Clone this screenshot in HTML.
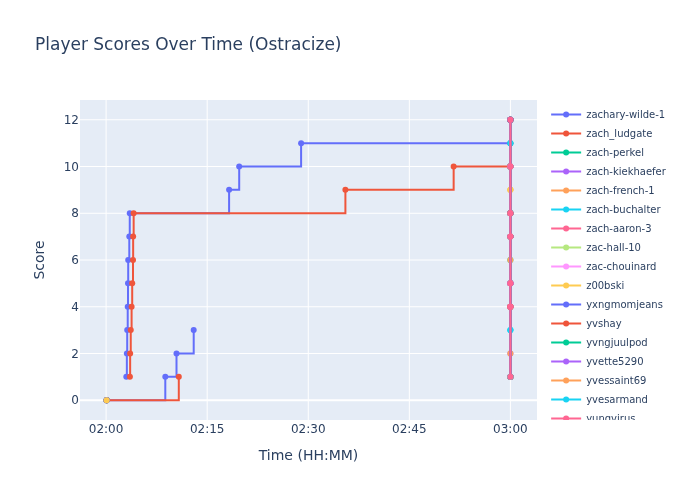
<!DOCTYPE html>
<html lang="en">
<head>
<meta charset="utf-8">
<title>Player Scores Over Time (Ostracize)</title>
<style>
html,body{margin:0;padding:0;background:#fff;overflow:hidden}
body{width:700px;height:500px;font-family:"DejaVu Sans","Liberation Sans",sans-serif}
svg{display:block}
</style>
</head>
<body>
<svg class="main-svg" width="700" height="500" viewBox="0 0 700 500"><rect x="0" y="0" width="700" height="500" style="fill: rgb(255, 255, 255); fill-opacity: 1;"/><defs id="defs-2659cf"><g class="clips"><clipPath id="clip2659cfxyplot" class="plotclip"><rect width="457" height="320"/></clipPath><clipPath class="axesclip" id="clip2659cfx"><rect x="80" y="0" width="457" height="500"/></clipPath><clipPath class="axesclip" id="clip2659cfy"><rect x="0" y="100" width="700" height="320"/></clipPath><clipPath class="axesclip" id="clip2659cfxy"><rect x="80" y="100" width="457" height="320"/></clipPath></g><g class="gradients"/><g class="patterns"/></defs><g class="bglayer"><rect class="bg" x="80" y="100" width="457" height="320" style="fill: rgb(229, 236, 246); fill-opacity: 1; stroke-width: 0;"/></g><g class="layer-below"><g class="imagelayer"/><g class="shapelayer"/></g><g class="cartesianlayer"><g class="subplot xy"><g class="layer-subplot"><g class="shapelayer"/><g class="imagelayer"/></g><g class="minor-gridlayer"><g class="x"/><g class="y"/></g><g class="gridlayer"><g class="x"><path class="xgrid crisp" transform="translate(106.1,0)" d="M0,100v320" style="stroke: rgb(255, 255, 255); stroke-opacity: 1; stroke-width: 1px;"/><path class="xgrid crisp" transform="translate(207.18,0)" d="M0,100v320" style="stroke: rgb(255, 255, 255); stroke-opacity: 1; stroke-width: 1px;"/><path class="xgrid crisp" transform="translate(308.25,0)" d="M0,100v320" style="stroke: rgb(255, 255, 255); stroke-opacity: 1; stroke-width: 1px;"/><path class="xgrid crisp" transform="translate(409.33,0)" d="M0,100v320" style="stroke: rgb(255, 255, 255); stroke-opacity: 1; stroke-width: 1px;"/><path class="xgrid crisp" transform="translate(510.4,0)" d="M0,100v320" style="stroke: rgb(255, 255, 255); stroke-opacity: 1; stroke-width: 1px;"/></g><g class="y"><path class="ygrid crisp" transform="translate(0,353.5)" d="M80,0h457" style="stroke: rgb(255, 255, 255); stroke-opacity: 1; stroke-width: 1px;"/><path class="ygrid crisp" transform="translate(0,306.75)" d="M80,0h457" style="stroke: rgb(255, 255, 255); stroke-opacity: 1; stroke-width: 1px;"/><path class="ygrid crisp" transform="translate(0,260)" d="M80,0h457" style="stroke: rgb(255, 255, 255); stroke-opacity: 1; stroke-width: 1px;"/><path class="ygrid crisp" transform="translate(0,213.25)" d="M80,0h457" style="stroke: rgb(255, 255, 255); stroke-opacity: 1; stroke-width: 1px;"/><path class="ygrid crisp" transform="translate(0,166.5)" d="M80,0h457" style="stroke: rgb(255, 255, 255); stroke-opacity: 1; stroke-width: 1px;"/><path class="ygrid crisp" transform="translate(0,119.75)" d="M80,0h457" style="stroke: rgb(255, 255, 255); stroke-opacity: 1; stroke-width: 1px;"/></g></g><g class="zerolinelayer"><path class="yzl zl crisp" transform="translate(0,400.25)" d="M80,0h457" style="stroke: rgb(255, 255, 255); stroke-opacity: 1; stroke-width: 2px;"/></g><g class="layer-between"><g class="shapelayer"/><g class="imagelayer"/></g><path class="xlines-below"/><path class="ylines-below"/><g class="overlines-below"/><g class="xaxislayer-below"/><g class="yaxislayer-below"/><g class="overaxes-below"/><g class="overplot"><g class="xy" transform="translate(80,100)" clip-path="url(#clip2659cfxyplot)"><g class="scatterlayer mlayer"><g class="trace scatter tracec89468" style="stroke-miterlimit: 2; opacity: 1;"><g class="fills"/><g class="errorbars"/><g class="lines"><path class="js-line" d="M46.3,276.87H46.85V253.5H47.2V230.12H47.72V206.75H48V183.37H48.2V160H49.3V136.62H49.75V113.25H149.1V89.87H159.2V66.5H221.1V43.13H430.4V43.13" style="vector-effect: none; fill: none; stroke: rgb(99, 110, 250); stroke-opacity: 1; stroke-width: 2px; opacity: 1;"/></g><g class="points"><path class="point" transform="translate(46.3,276.87)" d="M3,0A3,3 0 1,1 0,-3A3,3 0 0,1 3,0Z" style="opacity: 1; stroke-width: 0px; fill: rgb(99, 110, 250); fill-opacity: 1;"/><path class="point" transform="translate(46.85,253.5)" d="M3,0A3,3 0 1,1 0,-3A3,3 0 0,1 3,0Z" style="opacity: 1; stroke-width: 0px; fill: rgb(99, 110, 250); fill-opacity: 1;"/><path class="point" transform="translate(47.2,230.12)" d="M3,0A3,3 0 1,1 0,-3A3,3 0 0,1 3,0Z" style="opacity: 1; stroke-width: 0px; fill: rgb(99, 110, 250); fill-opacity: 1;"/><path class="point" transform="translate(47.72,206.75)" d="M3,0A3,3 0 1,1 0,-3A3,3 0 0,1 3,0Z" style="opacity: 1; stroke-width: 0px; fill: rgb(99, 110, 250); fill-opacity: 1;"/><path class="point" transform="translate(48,183.37)" d="M3,0A3,3 0 1,1 0,-3A3,3 0 0,1 3,0Z" style="opacity: 1; stroke-width: 0px; fill: rgb(99, 110, 250); fill-opacity: 1;"/><path class="point" transform="translate(48.2,160)" d="M3,0A3,3 0 1,1 0,-3A3,3 0 0,1 3,0Z" style="opacity: 1; stroke-width: 0px; fill: rgb(99, 110, 250); fill-opacity: 1;"/><path class="point" transform="translate(49.3,136.62)" d="M3,0A3,3 0 1,1 0,-3A3,3 0 0,1 3,0Z" style="opacity: 1; stroke-width: 0px; fill: rgb(99, 110, 250); fill-opacity: 1;"/><path class="point" transform="translate(49.75,113.25)" d="M3,0A3,3 0 1,1 0,-3A3,3 0 0,1 3,0Z" style="opacity: 1; stroke-width: 0px; fill: rgb(99, 110, 250); fill-opacity: 1;"/><path class="point" transform="translate(149.1,89.87)" d="M3,0A3,3 0 1,1 0,-3A3,3 0 0,1 3,0Z" style="opacity: 1; stroke-width: 0px; fill: rgb(99, 110, 250); fill-opacity: 1;"/><path class="point" transform="translate(159.2,66.5)" d="M3,0A3,3 0 1,1 0,-3A3,3 0 0,1 3,0Z" style="opacity: 1; stroke-width: 0px; fill: rgb(99, 110, 250); fill-opacity: 1;"/><path class="point" transform="translate(221.1,43.13)" d="M3,0A3,3 0 1,1 0,-3A3,3 0 0,1 3,0Z" style="opacity: 1; stroke-width: 0px; fill: rgb(99, 110, 250); fill-opacity: 1;"/><path class="point" transform="translate(430.4,43.13)" d="M3,0A3,3 0 1,1 0,-3A3,3 0 0,1 3,0Z" style="opacity: 1; stroke-width: 0px; fill: rgb(99, 110, 250); fill-opacity: 1;"/></g><g class="text"/></g><g class="trace scatter trace0ce179" style="stroke-miterlimit: 2; opacity: 1;"><g class="fills"/><g class="errorbars"/><g class="lines"><path class="js-line" d="M49.9,276.87H50.15V253.5H50.75V230.12H51.6V206.75H52.2V183.37H53V160H53.15V136.62H53.65V113.25H265.4V89.87H373.65V66.5H430.4V66.5" style="vector-effect: none; fill: none; stroke: rgb(239, 85, 59); stroke-opacity: 1; stroke-width: 2px; opacity: 1;"/></g><g class="points"><path class="point" transform="translate(49.9,276.87)" d="M3,0A3,3 0 1,1 0,-3A3,3 0 0,1 3,0Z" style="opacity: 1; stroke-width: 0px; fill: rgb(239, 85, 59); fill-opacity: 1;"/><path class="point" transform="translate(50.15,253.5)" d="M3,0A3,3 0 1,1 0,-3A3,3 0 0,1 3,0Z" style="opacity: 1; stroke-width: 0px; fill: rgb(239, 85, 59); fill-opacity: 1;"/><path class="point" transform="translate(50.75,230.12)" d="M3,0A3,3 0 1,1 0,-3A3,3 0 0,1 3,0Z" style="opacity: 1; stroke-width: 0px; fill: rgb(239, 85, 59); fill-opacity: 1;"/><path class="point" transform="translate(51.6,206.75)" d="M3,0A3,3 0 1,1 0,-3A3,3 0 0,1 3,0Z" style="opacity: 1; stroke-width: 0px; fill: rgb(239, 85, 59); fill-opacity: 1;"/><path class="point" transform="translate(52.2,183.37)" d="M3,0A3,3 0 1,1 0,-3A3,3 0 0,1 3,0Z" style="opacity: 1; stroke-width: 0px; fill: rgb(239, 85, 59); fill-opacity: 1;"/><path class="point" transform="translate(53,160)" d="M3,0A3,3 0 1,1 0,-3A3,3 0 0,1 3,0Z" style="opacity: 1; stroke-width: 0px; fill: rgb(239, 85, 59); fill-opacity: 1;"/><path class="point" transform="translate(53.15,136.62)" d="M3,0A3,3 0 1,1 0,-3A3,3 0 0,1 3,0Z" style="opacity: 1; stroke-width: 0px; fill: rgb(239, 85, 59); fill-opacity: 1;"/><path class="point" transform="translate(53.65,113.25)" d="M3,0A3,3 0 1,1 0,-3A3,3 0 0,1 3,0Z" style="opacity: 1; stroke-width: 0px; fill: rgb(239, 85, 59); fill-opacity: 1;"/><path class="point" transform="translate(265.4,89.87)" d="M3,0A3,3 0 1,1 0,-3A3,3 0 0,1 3,0Z" style="opacity: 1; stroke-width: 0px; fill: rgb(239, 85, 59); fill-opacity: 1;"/><path class="point" transform="translate(373.65,66.5)" d="M3,0A3,3 0 1,1 0,-3A3,3 0 0,1 3,0Z" style="opacity: 1; stroke-width: 0px; fill: rgb(239, 85, 59); fill-opacity: 1;"/><path class="point" transform="translate(430.4,66.5)" d="M3,0A3,3 0 1,1 0,-3A3,3 0 0,1 3,0Z" style="opacity: 1; stroke-width: 0px; fill: rgb(239, 85, 59); fill-opacity: 1;"/></g><g class="text"/></g><g class="trace scatter trace905008" style="stroke-miterlimit: 2; opacity: 1;"><g class="fills"/><g class="errorbars"/><g class="lines"><path class="js-line" d="M26.6,300.25" style="vector-effect: none; fill: none; stroke: rgb(0, 204, 150); stroke-opacity: 1; stroke-width: 2px; opacity: 1;"/><path class="js-line" d="M430.4,276.87H430.4V206.75H430.4V183.37H430.4V66.5H430.4V19.75" style="vector-effect: none; fill: none; stroke: rgb(0, 204, 150); stroke-opacity: 1; stroke-width: 2px; opacity: 1;"/></g><g class="points"><path class="point" transform="translate(26.6,300.25)" d="M3,0A3,3 0 1,1 0,-3A3,3 0 0,1 3,0Z" style="opacity: 1; stroke-width: 0px; fill: rgb(0, 204, 150); fill-opacity: 1;"/><path class="point" transform="translate(430.4,276.87)" d="M3,0A3,3 0 1,1 0,-3A3,3 0 0,1 3,0Z" style="opacity: 1; stroke-width: 0px; fill: rgb(0, 204, 150); fill-opacity: 1;"/><path class="point" transform="translate(430.4,206.75)" d="M3,0A3,3 0 1,1 0,-3A3,3 0 0,1 3,0Z" style="opacity: 1; stroke-width: 0px; fill: rgb(0, 204, 150); fill-opacity: 1;"/><path class="point" transform="translate(430.4,183.37)" d="M3,0A3,3 0 1,1 0,-3A3,3 0 0,1 3,0Z" style="opacity: 1; stroke-width: 0px; fill: rgb(0, 204, 150); fill-opacity: 1;"/><path class="point" transform="translate(430.4,66.5)" d="M3,0A3,3 0 1,1 0,-3A3,3 0 0,1 3,0Z" style="opacity: 1; stroke-width: 0px; fill: rgb(0, 204, 150); fill-opacity: 1;"/><path class="point" transform="translate(430.4,19.75)" d="M3,0A3,3 0 1,1 0,-3A3,3 0 0,1 3,0Z" style="opacity: 1; stroke-width: 0px; fill: rgb(0, 204, 150); fill-opacity: 1;"/></g><g class="text"/></g><g class="trace scatter trace4a29d1" style="stroke-miterlimit: 2; opacity: 1;"><g class="fills"/><g class="errorbars"/><g class="lines"><path class="js-line" d="M26.6,300.25" style="vector-effect: none; fill: none; stroke: rgb(171, 99, 250); stroke-opacity: 1; stroke-width: 2px; opacity: 1;"/><path class="js-line" d="M430.4,276.87H430.4V206.75H430.4V183.37H430.4V113.25H430.4V19.75" style="vector-effect: none; fill: none; stroke: rgb(171, 99, 250); stroke-opacity: 1; stroke-width: 2px; opacity: 1;"/></g><g class="points"><path class="point" transform="translate(26.6,300.25)" d="M3,0A3,3 0 1,1 0,-3A3,3 0 0,1 3,0Z" style="opacity: 1; stroke-width: 0px; fill: rgb(171, 99, 250); fill-opacity: 1;"/><path class="point" transform="translate(430.4,276.87)" d="M3,0A3,3 0 1,1 0,-3A3,3 0 0,1 3,0Z" style="opacity: 1; stroke-width: 0px; fill: rgb(171, 99, 250); fill-opacity: 1;"/><path class="point" transform="translate(430.4,206.75)" d="M3,0A3,3 0 1,1 0,-3A3,3 0 0,1 3,0Z" style="opacity: 1; stroke-width: 0px; fill: rgb(171, 99, 250); fill-opacity: 1;"/><path class="point" transform="translate(430.4,183.37)" d="M3,0A3,3 0 1,1 0,-3A3,3 0 0,1 3,0Z" style="opacity: 1; stroke-width: 0px; fill: rgb(171, 99, 250); fill-opacity: 1;"/><path class="point" transform="translate(430.4,113.25)" d="M3,0A3,3 0 1,1 0,-3A3,3 0 0,1 3,0Z" style="opacity: 1; stroke-width: 0px; fill: rgb(171, 99, 250); fill-opacity: 1;"/><path class="point" transform="translate(430.4,19.75)" d="M3,0A3,3 0 1,1 0,-3A3,3 0 0,1 3,0Z" style="opacity: 1; stroke-width: 0px; fill: rgb(171, 99, 250); fill-opacity: 1;"/></g><g class="text"/></g><g class="trace scatter trace80b6bf" style="stroke-miterlimit: 2; opacity: 1;"><g class="fills"/><g class="errorbars"/><g class="lines"><path class="js-line" d="M430.4,276.87H430.4V206.75H430.4V113.25H430.4V66.5H430.4V19.75" style="vector-effect: none; fill: none; stroke: rgb(255, 161, 90); stroke-opacity: 1; stroke-width: 2px; opacity: 1;"/></g><g class="points"><path class="point" transform="translate(430.4,276.87)" d="M3,0A3,3 0 1,1 0,-3A3,3 0 0,1 3,0Z" style="opacity: 1; stroke-width: 0px; fill: rgb(255, 161, 90); fill-opacity: 1;"/><path class="point" transform="translate(430.4,206.75)" d="M3,0A3,3 0 1,1 0,-3A3,3 0 0,1 3,0Z" style="opacity: 1; stroke-width: 0px; fill: rgb(255, 161, 90); fill-opacity: 1;"/><path class="point" transform="translate(430.4,113.25)" d="M3,0A3,3 0 1,1 0,-3A3,3 0 0,1 3,0Z" style="opacity: 1; stroke-width: 0px; fill: rgb(255, 161, 90); fill-opacity: 1;"/><path class="point" transform="translate(430.4,66.5)" d="M3,0A3,3 0 1,1 0,-3A3,3 0 0,1 3,0Z" style="opacity: 1; stroke-width: 0px; fill: rgb(255, 161, 90); fill-opacity: 1;"/><path class="point" transform="translate(430.4,19.75)" d="M3,0A3,3 0 1,1 0,-3A3,3 0 0,1 3,0Z" style="opacity: 1; stroke-width: 0px; fill: rgb(255, 161, 90); fill-opacity: 1;"/></g><g class="text"/></g><g class="trace scatter tracea40d07" style="stroke-miterlimit: 2; opacity: 1;"><g class="fills"/><g class="errorbars"/><g class="lines"><path class="js-line" d="M430.4,276.87H430.4V206.75H430.4V113.25H430.4V66.5H430.4V19.75" style="vector-effect: none; fill: none; stroke: rgb(25, 211, 243); stroke-opacity: 1; stroke-width: 2px; opacity: 1;"/></g><g class="points"><path class="point" transform="translate(430.4,276.87)" d="M3,0A3,3 0 1,1 0,-3A3,3 0 0,1 3,0Z" style="opacity: 1; stroke-width: 0px; fill: rgb(25, 211, 243); fill-opacity: 1;"/><path class="point" transform="translate(430.4,206.75)" d="M3,0A3,3 0 1,1 0,-3A3,3 0 0,1 3,0Z" style="opacity: 1; stroke-width: 0px; fill: rgb(25, 211, 243); fill-opacity: 1;"/><path class="point" transform="translate(430.4,113.25)" d="M3,0A3,3 0 1,1 0,-3A3,3 0 0,1 3,0Z" style="opacity: 1; stroke-width: 0px; fill: rgb(25, 211, 243); fill-opacity: 1;"/><path class="point" transform="translate(430.4,66.5)" d="M3,0A3,3 0 1,1 0,-3A3,3 0 0,1 3,0Z" style="opacity: 1; stroke-width: 0px; fill: rgb(25, 211, 243); fill-opacity: 1;"/><path class="point" transform="translate(430.4,19.75)" d="M3,0A3,3 0 1,1 0,-3A3,3 0 0,1 3,0Z" style="opacity: 1; stroke-width: 0px; fill: rgb(25, 211, 243); fill-opacity: 1;"/></g><g class="text"/></g><g class="trace scatter trace0ecbd5" style="stroke-miterlimit: 2; opacity: 1;"><g class="fills"/><g class="errorbars"/><g class="lines"><path class="js-line" d="M430.4,276.87H430.4V136.62H430.4V113.25H430.4V66.5H430.4V19.75" style="vector-effect: none; fill: none; stroke: rgb(255, 102, 146); stroke-opacity: 1; stroke-width: 2px; opacity: 1;"/></g><g class="points"><path class="point" transform="translate(430.4,276.87)" d="M3,0A3,3 0 1,1 0,-3A3,3 0 0,1 3,0Z" style="opacity: 1; stroke-width: 0px; fill: rgb(255, 102, 146); fill-opacity: 1;"/><path class="point" transform="translate(430.4,136.62)" d="M3,0A3,3 0 1,1 0,-3A3,3 0 0,1 3,0Z" style="opacity: 1; stroke-width: 0px; fill: rgb(255, 102, 146); fill-opacity: 1;"/><path class="point" transform="translate(430.4,113.25)" d="M3,0A3,3 0 1,1 0,-3A3,3 0 0,1 3,0Z" style="opacity: 1; stroke-width: 0px; fill: rgb(255, 102, 146); fill-opacity: 1;"/><path class="point" transform="translate(430.4,66.5)" d="M3,0A3,3 0 1,1 0,-3A3,3 0 0,1 3,0Z" style="opacity: 1; stroke-width: 0px; fill: rgb(255, 102, 146); fill-opacity: 1;"/><path class="point" transform="translate(430.4,19.75)" d="M3,0A3,3 0 1,1 0,-3A3,3 0 0,1 3,0Z" style="opacity: 1; stroke-width: 0px; fill: rgb(255, 102, 146); fill-opacity: 1;"/></g><g class="text"/></g><g class="trace scatter tracea06ddb" style="stroke-miterlimit: 2; opacity: 1;"><g class="fills"/><g class="errorbars"/><g class="lines"><path class="js-line" d="M430.4,276.87H430.4V206.75H430.4V183.37H430.4V113.25H430.4V19.75" style="vector-effect: none; fill: none; stroke: rgb(182, 232, 128); stroke-opacity: 1; stroke-width: 2px; opacity: 1;"/></g><g class="points"><path class="point" transform="translate(430.4,276.87)" d="M3,0A3,3 0 1,1 0,-3A3,3 0 0,1 3,0Z" style="opacity: 1; stroke-width: 0px; fill: rgb(182, 232, 128); fill-opacity: 1;"/><path class="point" transform="translate(430.4,206.75)" d="M3,0A3,3 0 1,1 0,-3A3,3 0 0,1 3,0Z" style="opacity: 1; stroke-width: 0px; fill: rgb(182, 232, 128); fill-opacity: 1;"/><path class="point" transform="translate(430.4,183.37)" d="M3,0A3,3 0 1,1 0,-3A3,3 0 0,1 3,0Z" style="opacity: 1; stroke-width: 0px; fill: rgb(182, 232, 128); fill-opacity: 1;"/><path class="point" transform="translate(430.4,113.25)" d="M3,0A3,3 0 1,1 0,-3A3,3 0 0,1 3,0Z" style="opacity: 1; stroke-width: 0px; fill: rgb(182, 232, 128); fill-opacity: 1;"/><path class="point" transform="translate(430.4,19.75)" d="M3,0A3,3 0 1,1 0,-3A3,3 0 0,1 3,0Z" style="opacity: 1; stroke-width: 0px; fill: rgb(182, 232, 128); fill-opacity: 1;"/></g><g class="text"/></g><g class="trace scatter trace0b827e" style="stroke-miterlimit: 2; opacity: 1;"><g class="fills"/><g class="errorbars"/><g class="lines"><path class="js-line" d="M430.4,276.87H430.4V206.75H430.4V183.37H430.4V66.5H430.4V19.75" style="vector-effect: none; fill: none; stroke: rgb(255, 151, 255); stroke-opacity: 1; stroke-width: 2px; opacity: 1;"/></g><g class="points"><path class="point" transform="translate(430.4,276.87)" d="M3,0A3,3 0 1,1 0,-3A3,3 0 0,1 3,0Z" style="opacity: 1; stroke-width: 0px; fill: rgb(255, 151, 255); fill-opacity: 1;"/><path class="point" transform="translate(430.4,206.75)" d="M3,0A3,3 0 1,1 0,-3A3,3 0 0,1 3,0Z" style="opacity: 1; stroke-width: 0px; fill: rgb(255, 151, 255); fill-opacity: 1;"/><path class="point" transform="translate(430.4,183.37)" d="M3,0A3,3 0 1,1 0,-3A3,3 0 0,1 3,0Z" style="opacity: 1; stroke-width: 0px; fill: rgb(255, 151, 255); fill-opacity: 1;"/><path class="point" transform="translate(430.4,66.5)" d="M3,0A3,3 0 1,1 0,-3A3,3 0 0,1 3,0Z" style="opacity: 1; stroke-width: 0px; fill: rgb(255, 151, 255); fill-opacity: 1;"/><path class="point" transform="translate(430.4,19.75)" d="M3,0A3,3 0 1,1 0,-3A3,3 0 0,1 3,0Z" style="opacity: 1; stroke-width: 0px; fill: rgb(255, 151, 255); fill-opacity: 1;"/></g><g class="text"/></g><g class="trace scatter trace931fcd" style="stroke-miterlimit: 2; opacity: 1;"><g class="fills"/><g class="errorbars"/><g class="lines"><path class="js-line" d="M430.4,276.87H430.4V206.75H430.4V113.25H430.4V66.5H430.4V19.75" style="vector-effect: none; fill: none; stroke: rgb(254, 203, 82); stroke-opacity: 1; stroke-width: 2px; opacity: 1;"/></g><g class="points"><path class="point" transform="translate(430.4,276.87)" d="M3,0A3,3 0 1,1 0,-3A3,3 0 0,1 3,0Z" style="opacity: 1; stroke-width: 0px; fill: rgb(254, 203, 82); fill-opacity: 1;"/><path class="point" transform="translate(430.4,206.75)" d="M3,0A3,3 0 1,1 0,-3A3,3 0 0,1 3,0Z" style="opacity: 1; stroke-width: 0px; fill: rgb(254, 203, 82); fill-opacity: 1;"/><path class="point" transform="translate(430.4,113.25)" d="M3,0A3,3 0 1,1 0,-3A3,3 0 0,1 3,0Z" style="opacity: 1; stroke-width: 0px; fill: rgb(254, 203, 82); fill-opacity: 1;"/><path class="point" transform="translate(430.4,66.5)" d="M3,0A3,3 0 1,1 0,-3A3,3 0 0,1 3,0Z" style="opacity: 1; stroke-width: 0px; fill: rgb(254, 203, 82); fill-opacity: 1;"/><path class="point" transform="translate(430.4,19.75)" d="M3,0A3,3 0 1,1 0,-3A3,3 0 0,1 3,0Z" style="opacity: 1; stroke-width: 0px; fill: rgb(254, 203, 82); fill-opacity: 1;"/></g><g class="text"/></g><g class="trace scatter trace6bf60d" style="stroke-miterlimit: 2; opacity: 1;"><g class="fills"/><g class="errorbars"/><g class="lines"><path class="js-line" d="M26.6,300.25H85.3V276.87H96.5V253.5H113.7V230.12" style="vector-effect: none; fill: none; stroke: rgb(99, 110, 250); stroke-opacity: 1; stroke-width: 2px; opacity: 1;"/></g><g class="points"><path class="point" transform="translate(26.6,300.25)" d="M3,0A3,3 0 1,1 0,-3A3,3 0 0,1 3,0Z" style="opacity: 1; stroke-width: 0px; fill: rgb(99, 110, 250); fill-opacity: 1;"/><path class="point" transform="translate(85.3,276.87)" d="M3,0A3,3 0 1,1 0,-3A3,3 0 0,1 3,0Z" style="opacity: 1; stroke-width: 0px; fill: rgb(99, 110, 250); fill-opacity: 1;"/><path class="point" transform="translate(96.5,253.5)" d="M3,0A3,3 0 1,1 0,-3A3,3 0 0,1 3,0Z" style="opacity: 1; stroke-width: 0px; fill: rgb(99, 110, 250); fill-opacity: 1;"/><path class="point" transform="translate(113.7,230.12)" d="M3,0A3,3 0 1,1 0,-3A3,3 0 0,1 3,0Z" style="opacity: 1; stroke-width: 0px; fill: rgb(99, 110, 250); fill-opacity: 1;"/></g><g class="text"/></g><g class="trace scatter trace4b338f" style="stroke-miterlimit: 2; opacity: 1;"><g class="fills"/><g class="errorbars"/><g class="lines"><path class="js-line" d="M26.6,300.25H98.8V276.87" style="vector-effect: none; fill: none; stroke: rgb(239, 85, 59); stroke-opacity: 1; stroke-width: 2px; opacity: 1;"/></g><g class="points"><path class="point" transform="translate(26.6,300.25)" d="M3,0A3,3 0 1,1 0,-3A3,3 0 0,1 3,0Z" style="opacity: 1; stroke-width: 0px; fill: rgb(239, 85, 59); fill-opacity: 1;"/><path class="point" transform="translate(98.8,276.87)" d="M3,0A3,3 0 1,1 0,-3A3,3 0 0,1 3,0Z" style="opacity: 1; stroke-width: 0px; fill: rgb(239, 85, 59); fill-opacity: 1;"/></g><g class="text"/></g><g class="trace scatter trace9355e5" style="stroke-miterlimit: 2; opacity: 1;"><g class="fills"/><g class="errorbars"/><g class="lines"><path class="js-line" d="M26.6,300.25" style="vector-effect: none; fill: none; stroke: rgb(0, 204, 150); stroke-opacity: 1; stroke-width: 2px; opacity: 1;"/><path class="js-line" d="M430.4,276.87H430.4V206.75H430.4V183.37H430.4V66.5H430.4V19.75" style="vector-effect: none; fill: none; stroke: rgb(0, 204, 150); stroke-opacity: 1; stroke-width: 2px; opacity: 1;"/></g><g class="points"><path class="point" transform="translate(26.6,300.25)" d="M3,0A3,3 0 1,1 0,-3A3,3 0 0,1 3,0Z" style="opacity: 1; stroke-width: 0px; fill: rgb(0, 204, 150); fill-opacity: 1;"/><path class="point" transform="translate(430.4,276.87)" d="M3,0A3,3 0 1,1 0,-3A3,3 0 0,1 3,0Z" style="opacity: 1; stroke-width: 0px; fill: rgb(0, 204, 150); fill-opacity: 1;"/><path class="point" transform="translate(430.4,206.75)" d="M3,0A3,3 0 1,1 0,-3A3,3 0 0,1 3,0Z" style="opacity: 1; stroke-width: 0px; fill: rgb(0, 204, 150); fill-opacity: 1;"/><path class="point" transform="translate(430.4,183.37)" d="M3,0A3,3 0 1,1 0,-3A3,3 0 0,1 3,0Z" style="opacity: 1; stroke-width: 0px; fill: rgb(0, 204, 150); fill-opacity: 1;"/><path class="point" transform="translate(430.4,66.5)" d="M3,0A3,3 0 1,1 0,-3A3,3 0 0,1 3,0Z" style="opacity: 1; stroke-width: 0px; fill: rgb(0, 204, 150); fill-opacity: 1;"/><path class="point" transform="translate(430.4,19.75)" d="M3,0A3,3 0 1,1 0,-3A3,3 0 0,1 3,0Z" style="opacity: 1; stroke-width: 0px; fill: rgb(0, 204, 150); fill-opacity: 1;"/></g><g class="text"/></g><g class="trace scatter trace515d7d" style="stroke-miterlimit: 2; opacity: 1;"><g class="fills"/><g class="errorbars"/><g class="lines"><path class="js-line" d="M26.6,300.25" style="vector-effect: none; fill: none; stroke: rgb(171, 99, 250); stroke-opacity: 1; stroke-width: 2px; opacity: 1;"/><path class="js-line" d="M430.4,276.87H430.4V183.37H430.4V136.62H430.4V113.25H430.4V19.75" style="vector-effect: none; fill: none; stroke: rgb(171, 99, 250); stroke-opacity: 1; stroke-width: 2px; opacity: 1;"/></g><g class="points"><path class="point" transform="translate(26.6,300.25)" d="M3,0A3,3 0 1,1 0,-3A3,3 0 0,1 3,0Z" style="opacity: 1; stroke-width: 0px; fill: rgb(171, 99, 250); fill-opacity: 1;"/><path class="point" transform="translate(430.4,276.87)" d="M3,0A3,3 0 1,1 0,-3A3,3 0 0,1 3,0Z" style="opacity: 1; stroke-width: 0px; fill: rgb(171, 99, 250); fill-opacity: 1;"/><path class="point" transform="translate(430.4,183.37)" d="M3,0A3,3 0 1,1 0,-3A3,3 0 0,1 3,0Z" style="opacity: 1; stroke-width: 0px; fill: rgb(171, 99, 250); fill-opacity: 1;"/><path class="point" transform="translate(430.4,136.62)" d="M3,0A3,3 0 1,1 0,-3A3,3 0 0,1 3,0Z" style="opacity: 1; stroke-width: 0px; fill: rgb(171, 99, 250); fill-opacity: 1;"/><path class="point" transform="translate(430.4,113.25)" d="M3,0A3,3 0 1,1 0,-3A3,3 0 0,1 3,0Z" style="opacity: 1; stroke-width: 0px; fill: rgb(171, 99, 250); fill-opacity: 1;"/><path class="point" transform="translate(430.4,19.75)" d="M3,0A3,3 0 1,1 0,-3A3,3 0 0,1 3,0Z" style="opacity: 1; stroke-width: 0px; fill: rgb(171, 99, 250); fill-opacity: 1;"/></g><g class="text"/></g><g class="trace scatter traceda4445" style="stroke-miterlimit: 2; opacity: 1;"><g class="fills"/><g class="errorbars"/><g class="lines"><path class="js-line" d="M430.4,276.87H430.4V206.75H430.4V183.37H430.4V113.25H430.4V19.75" style="vector-effect: none; fill: none; stroke: rgb(255, 161, 90); stroke-opacity: 1; stroke-width: 2px; opacity: 1;"/></g><g class="points"><path class="point" transform="translate(430.4,276.87)" d="M3,0A3,3 0 1,1 0,-3A3,3 0 0,1 3,0Z" style="opacity: 1; stroke-width: 0px; fill: rgb(255, 161, 90); fill-opacity: 1;"/><path class="point" transform="translate(430.4,206.75)" d="M3,0A3,3 0 1,1 0,-3A3,3 0 0,1 3,0Z" style="opacity: 1; stroke-width: 0px; fill: rgb(255, 161, 90); fill-opacity: 1;"/><path class="point" transform="translate(430.4,183.37)" d="M3,0A3,3 0 1,1 0,-3A3,3 0 0,1 3,0Z" style="opacity: 1; stroke-width: 0px; fill: rgb(255, 161, 90); fill-opacity: 1;"/><path class="point" transform="translate(430.4,113.25)" d="M3,0A3,3 0 1,1 0,-3A3,3 0 0,1 3,0Z" style="opacity: 1; stroke-width: 0px; fill: rgb(255, 161, 90); fill-opacity: 1;"/><path class="point" transform="translate(430.4,19.75)" d="M3,0A3,3 0 1,1 0,-3A3,3 0 0,1 3,0Z" style="opacity: 1; stroke-width: 0px; fill: rgb(255, 161, 90); fill-opacity: 1;"/></g><g class="text"/></g><g class="trace scatter tracef6072b" style="stroke-miterlimit: 2; opacity: 1;"><g class="fills"/><g class="errorbars"/><g class="lines"><path class="js-line" d="M430.4,276.87H430.4V183.37H430.4V113.25H430.4V66.5H430.4V19.75" style="vector-effect: none; fill: none; stroke: rgb(25, 211, 243); stroke-opacity: 1; stroke-width: 2px; opacity: 1;"/></g><g class="points"><path class="point" transform="translate(430.4,276.87)" d="M3,0A3,3 0 1,1 0,-3A3,3 0 0,1 3,0Z" style="opacity: 1; stroke-width: 0px; fill: rgb(25, 211, 243); fill-opacity: 1;"/><path class="point" transform="translate(430.4,183.37)" d="M3,0A3,3 0 1,1 0,-3A3,3 0 0,1 3,0Z" style="opacity: 1; stroke-width: 0px; fill: rgb(25, 211, 243); fill-opacity: 1;"/><path class="point" transform="translate(430.4,113.25)" d="M3,0A3,3 0 1,1 0,-3A3,3 0 0,1 3,0Z" style="opacity: 1; stroke-width: 0px; fill: rgb(25, 211, 243); fill-opacity: 1;"/><path class="point" transform="translate(430.4,66.5)" d="M3,0A3,3 0 1,1 0,-3A3,3 0 0,1 3,0Z" style="opacity: 1; stroke-width: 0px; fill: rgb(25, 211, 243); fill-opacity: 1;"/><path class="point" transform="translate(430.4,19.75)" d="M3,0A3,3 0 1,1 0,-3A3,3 0 0,1 3,0Z" style="opacity: 1; stroke-width: 0px; fill: rgb(25, 211, 243); fill-opacity: 1;"/></g><g class="text"/></g><g class="trace scatter trace449b31" style="stroke-miterlimit: 2; opacity: 1;"><g class="fills"/><g class="errorbars"/><g class="lines"><path class="js-line" d="M430.4,276.87H430.4V183.37H430.4V113.25H430.4V66.5H430.4V19.75" style="vector-effect: none; fill: none; stroke: rgb(255, 102, 146); stroke-opacity: 1; stroke-width: 2px; opacity: 1;"/></g><g class="points"><path class="point" transform="translate(430.4,276.87)" d="M3,0A3,3 0 1,1 0,-3A3,3 0 0,1 3,0Z" style="opacity: 1; stroke-width: 0px; fill: rgb(255, 102, 146); fill-opacity: 1;"/><path class="point" transform="translate(430.4,183.37)" d="M3,0A3,3 0 1,1 0,-3A3,3 0 0,1 3,0Z" style="opacity: 1; stroke-width: 0px; fill: rgb(255, 102, 146); fill-opacity: 1;"/><path class="point" transform="translate(430.4,113.25)" d="M3,0A3,3 0 1,1 0,-3A3,3 0 0,1 3,0Z" style="opacity: 1; stroke-width: 0px; fill: rgb(255, 102, 146); fill-opacity: 1;"/><path class="point" transform="translate(430.4,66.5)" d="M3,0A3,3 0 1,1 0,-3A3,3 0 0,1 3,0Z" style="opacity: 1; stroke-width: 0px; fill: rgb(255, 102, 146); fill-opacity: 1;"/><path class="point" transform="translate(430.4,19.75)" d="M3,0A3,3 0 1,1 0,-3A3,3 0 0,1 3,0Z" style="opacity: 1; stroke-width: 0px; fill: rgb(255, 102, 146); fill-opacity: 1;"/></g><g class="text"/></g><g class="trace scatter tracedf023d" style="stroke-miterlimit: 2; opacity: 1;"><g class="fills"/><g class="errorbars"/><g class="lines"><path class="js-line" d="M430.4,276.87H430.4V206.75H430.4V183.37H430.4V136.62H430.4V19.75" style="vector-effect: none; fill: none; stroke: rgb(182, 232, 128); stroke-opacity: 1; stroke-width: 2px; opacity: 1;"/></g><g class="points"><path class="point" transform="translate(430.4,276.87)" d="M3,0A3,3 0 1,1 0,-3A3,3 0 0,1 3,0Z" style="opacity: 1; stroke-width: 0px; fill: rgb(182, 232, 128); fill-opacity: 1;"/><path class="point" transform="translate(430.4,206.75)" d="M3,0A3,3 0 1,1 0,-3A3,3 0 0,1 3,0Z" style="opacity: 1; stroke-width: 0px; fill: rgb(182, 232, 128); fill-opacity: 1;"/><path class="point" transform="translate(430.4,183.37)" d="M3,0A3,3 0 1,1 0,-3A3,3 0 0,1 3,0Z" style="opacity: 1; stroke-width: 0px; fill: rgb(182, 232, 128); fill-opacity: 1;"/><path class="point" transform="translate(430.4,136.62)" d="M3,0A3,3 0 1,1 0,-3A3,3 0 0,1 3,0Z" style="opacity: 1; stroke-width: 0px; fill: rgb(182, 232, 128); fill-opacity: 1;"/><path class="point" transform="translate(430.4,19.75)" d="M3,0A3,3 0 1,1 0,-3A3,3 0 0,1 3,0Z" style="opacity: 1; stroke-width: 0px; fill: rgb(182, 232, 128); fill-opacity: 1;"/></g><g class="text"/></g><g class="trace scatter trace6e24b5" style="stroke-miterlimit: 2; opacity: 1;"><g class="fills"/><g class="errorbars"/><g class="lines"><path class="js-line" d="M430.4,276.87H430.4V206.75H430.4V113.25H430.4V66.5H430.4V19.75" style="vector-effect: none; fill: none; stroke: rgb(255, 151, 255); stroke-opacity: 1; stroke-width: 2px; opacity: 1;"/></g><g class="points"><path class="point" transform="translate(430.4,276.87)" d="M3,0A3,3 0 1,1 0,-3A3,3 0 0,1 3,0Z" style="opacity: 1; stroke-width: 0px; fill: rgb(255, 151, 255); fill-opacity: 1;"/><path class="point" transform="translate(430.4,206.75)" d="M3,0A3,3 0 1,1 0,-3A3,3 0 0,1 3,0Z" style="opacity: 1; stroke-width: 0px; fill: rgb(255, 151, 255); fill-opacity: 1;"/><path class="point" transform="translate(430.4,113.25)" d="M3,0A3,3 0 1,1 0,-3A3,3 0 0,1 3,0Z" style="opacity: 1; stroke-width: 0px; fill: rgb(255, 151, 255); fill-opacity: 1;"/><path class="point" transform="translate(430.4,66.5)" d="M3,0A3,3 0 1,1 0,-3A3,3 0 0,1 3,0Z" style="opacity: 1; stroke-width: 0px; fill: rgb(255, 151, 255); fill-opacity: 1;"/><path class="point" transform="translate(430.4,19.75)" d="M3,0A3,3 0 1,1 0,-3A3,3 0 0,1 3,0Z" style="opacity: 1; stroke-width: 0px; fill: rgb(255, 151, 255); fill-opacity: 1;"/></g><g class="text"/></g><g class="trace scatter trace5e1585" style="stroke-miterlimit: 2; opacity: 1;"><g class="fills"/><g class="errorbars"/><g class="lines"><path class="js-line" d="M430.4,276.87H430.4V206.75H430.4V136.62H430.4V66.5H430.4V19.75" style="vector-effect: none; fill: none; stroke: rgb(254, 203, 82); stroke-opacity: 1; stroke-width: 2px; opacity: 1;"/></g><g class="points"><path class="point" transform="translate(430.4,276.87)" d="M3,0A3,3 0 1,1 0,-3A3,3 0 0,1 3,0Z" style="opacity: 1; stroke-width: 0px; fill: rgb(254, 203, 82); fill-opacity: 1;"/><path class="point" transform="translate(430.4,206.75)" d="M3,0A3,3 0 1,1 0,-3A3,3 0 0,1 3,0Z" style="opacity: 1; stroke-width: 0px; fill: rgb(254, 203, 82); fill-opacity: 1;"/><path class="point" transform="translate(430.4,136.62)" d="M3,0A3,3 0 1,1 0,-3A3,3 0 0,1 3,0Z" style="opacity: 1; stroke-width: 0px; fill: rgb(254, 203, 82); fill-opacity: 1;"/><path class="point" transform="translate(430.4,66.5)" d="M3,0A3,3 0 1,1 0,-3A3,3 0 0,1 3,0Z" style="opacity: 1; stroke-width: 0px; fill: rgb(254, 203, 82); fill-opacity: 1;"/><path class="point" transform="translate(430.4,19.75)" d="M3,0A3,3 0 1,1 0,-3A3,3 0 0,1 3,0Z" style="opacity: 1; stroke-width: 0px; fill: rgb(254, 203, 82); fill-opacity: 1;"/></g><g class="text"/></g><g class="trace scatter tracec0c19f" style="stroke-miterlimit: 2; opacity: 1;"><g class="fills"/><g class="errorbars"/><g class="lines"><path class="js-line" d="M26.6,300.25" style="vector-effect: none; fill: none; stroke: rgb(99, 110, 250); stroke-opacity: 1; stroke-width: 2px; opacity: 1;"/><path class="js-line" d="M430.4,276.87H430.4V136.62H430.4V113.25H430.4V66.5H430.4V19.75" style="vector-effect: none; fill: none; stroke: rgb(99, 110, 250); stroke-opacity: 1; stroke-width: 2px; opacity: 1;"/></g><g class="points"><path class="point" transform="translate(26.6,300.25)" d="M3,0A3,3 0 1,1 0,-3A3,3 0 0,1 3,0Z" style="opacity: 1; stroke-width: 0px; fill: rgb(99, 110, 250); fill-opacity: 1;"/><path class="point" transform="translate(430.4,276.87)" d="M3,0A3,3 0 1,1 0,-3A3,3 0 0,1 3,0Z" style="opacity: 1; stroke-width: 0px; fill: rgb(99, 110, 250); fill-opacity: 1;"/><path class="point" transform="translate(430.4,136.62)" d="M3,0A3,3 0 1,1 0,-3A3,3 0 0,1 3,0Z" style="opacity: 1; stroke-width: 0px; fill: rgb(99, 110, 250); fill-opacity: 1;"/><path class="point" transform="translate(430.4,113.25)" d="M3,0A3,3 0 1,1 0,-3A3,3 0 0,1 3,0Z" style="opacity: 1; stroke-width: 0px; fill: rgb(99, 110, 250); fill-opacity: 1;"/><path class="point" transform="translate(430.4,66.5)" d="M3,0A3,3 0 1,1 0,-3A3,3 0 0,1 3,0Z" style="opacity: 1; stroke-width: 0px; fill: rgb(99, 110, 250); fill-opacity: 1;"/><path class="point" transform="translate(430.4,19.75)" d="M3,0A3,3 0 1,1 0,-3A3,3 0 0,1 3,0Z" style="opacity: 1; stroke-width: 0px; fill: rgb(99, 110, 250); fill-opacity: 1;"/></g><g class="text"/></g><g class="trace scatter traceb898c1" style="stroke-miterlimit: 2; opacity: 1;"><g class="fills"/><g class="errorbars"/><g class="lines"><path class="js-line" d="M26.6,300.25" style="vector-effect: none; fill: none; stroke: rgb(239, 85, 59); stroke-opacity: 1; stroke-width: 2px; opacity: 1;"/><path class="js-line" d="M430.4,276.87H430.4V183.37H430.4V136.62H430.4V66.5H430.4V19.75" style="vector-effect: none; fill: none; stroke: rgb(239, 85, 59); stroke-opacity: 1; stroke-width: 2px; opacity: 1;"/></g><g class="points"><path class="point" transform="translate(26.6,300.25)" d="M3,0A3,3 0 1,1 0,-3A3,3 0 0,1 3,0Z" style="opacity: 1; stroke-width: 0px; fill: rgb(239, 85, 59); fill-opacity: 1;"/><path class="point" transform="translate(430.4,276.87)" d="M3,0A3,3 0 1,1 0,-3A3,3 0 0,1 3,0Z" style="opacity: 1; stroke-width: 0px; fill: rgb(239, 85, 59); fill-opacity: 1;"/><path class="point" transform="translate(430.4,183.37)" d="M3,0A3,3 0 1,1 0,-3A3,3 0 0,1 3,0Z" style="opacity: 1; stroke-width: 0px; fill: rgb(239, 85, 59); fill-opacity: 1;"/><path class="point" transform="translate(430.4,136.62)" d="M3,0A3,3 0 1,1 0,-3A3,3 0 0,1 3,0Z" style="opacity: 1; stroke-width: 0px; fill: rgb(239, 85, 59); fill-opacity: 1;"/><path class="point" transform="translate(430.4,66.5)" d="M3,0A3,3 0 1,1 0,-3A3,3 0 0,1 3,0Z" style="opacity: 1; stroke-width: 0px; fill: rgb(239, 85, 59); fill-opacity: 1;"/><path class="point" transform="translate(430.4,19.75)" d="M3,0A3,3 0 1,1 0,-3A3,3 0 0,1 3,0Z" style="opacity: 1; stroke-width: 0px; fill: rgb(239, 85, 59); fill-opacity: 1;"/></g><g class="text"/></g><g class="trace scatter trace8c42e8" style="stroke-miterlimit: 2; opacity: 1;"><g class="fills"/><g class="errorbars"/><g class="lines"><path class="js-line" d="M26.6,300.25" style="vector-effect: none; fill: none; stroke: rgb(0, 204, 150); stroke-opacity: 1; stroke-width: 2px; opacity: 1;"/><path class="js-line" d="M430.4,276.87H430.4V136.62H430.4V113.25H430.4V66.5H430.4V19.75" style="vector-effect: none; fill: none; stroke: rgb(0, 204, 150); stroke-opacity: 1; stroke-width: 2px; opacity: 1;"/></g><g class="points"><path class="point" transform="translate(26.6,300.25)" d="M3,0A3,3 0 1,1 0,-3A3,3 0 0,1 3,0Z" style="opacity: 1; stroke-width: 0px; fill: rgb(0, 204, 150); fill-opacity: 1;"/><path class="point" transform="translate(430.4,276.87)" d="M3,0A3,3 0 1,1 0,-3A3,3 0 0,1 3,0Z" style="opacity: 1; stroke-width: 0px; fill: rgb(0, 204, 150); fill-opacity: 1;"/><path class="point" transform="translate(430.4,136.62)" d="M3,0A3,3 0 1,1 0,-3A3,3 0 0,1 3,0Z" style="opacity: 1; stroke-width: 0px; fill: rgb(0, 204, 150); fill-opacity: 1;"/><path class="point" transform="translate(430.4,113.25)" d="M3,0A3,3 0 1,1 0,-3A3,3 0 0,1 3,0Z" style="opacity: 1; stroke-width: 0px; fill: rgb(0, 204, 150); fill-opacity: 1;"/><path class="point" transform="translate(430.4,66.5)" d="M3,0A3,3 0 1,1 0,-3A3,3 0 0,1 3,0Z" style="opacity: 1; stroke-width: 0px; fill: rgb(0, 204, 150); fill-opacity: 1;"/><path class="point" transform="translate(430.4,19.75)" d="M3,0A3,3 0 1,1 0,-3A3,3 0 0,1 3,0Z" style="opacity: 1; stroke-width: 0px; fill: rgb(0, 204, 150); fill-opacity: 1;"/></g><g class="text"/></g><g class="trace scatter trace85990e" style="stroke-miterlimit: 2; opacity: 1;"><g class="fills"/><g class="errorbars"/><g class="lines"><path class="js-line" d="M26.6,300.25" style="vector-effect: none; fill: none; stroke: rgb(171, 99, 250); stroke-opacity: 1; stroke-width: 2px; opacity: 1;"/><path class="js-line" d="M430.4,276.87H430.4V206.75H430.4V183.37H430.4V113.25H430.4V19.75" style="vector-effect: none; fill: none; stroke: rgb(171, 99, 250); stroke-opacity: 1; stroke-width: 2px; opacity: 1;"/></g><g class="points"><path class="point" transform="translate(26.6,300.25)" d="M3,0A3,3 0 1,1 0,-3A3,3 0 0,1 3,0Z" style="opacity: 1; stroke-width: 0px; fill: rgb(171, 99, 250); fill-opacity: 1;"/><path class="point" transform="translate(430.4,276.87)" d="M3,0A3,3 0 1,1 0,-3A3,3 0 0,1 3,0Z" style="opacity: 1; stroke-width: 0px; fill: rgb(171, 99, 250); fill-opacity: 1;"/><path class="point" transform="translate(430.4,206.75)" d="M3,0A3,3 0 1,1 0,-3A3,3 0 0,1 3,0Z" style="opacity: 1; stroke-width: 0px; fill: rgb(171, 99, 250); fill-opacity: 1;"/><path class="point" transform="translate(430.4,183.37)" d="M3,0A3,3 0 1,1 0,-3A3,3 0 0,1 3,0Z" style="opacity: 1; stroke-width: 0px; fill: rgb(171, 99, 250); fill-opacity: 1;"/><path class="point" transform="translate(430.4,113.25)" d="M3,0A3,3 0 1,1 0,-3A3,3 0 0,1 3,0Z" style="opacity: 1; stroke-width: 0px; fill: rgb(171, 99, 250); fill-opacity: 1;"/><path class="point" transform="translate(430.4,19.75)" d="M3,0A3,3 0 1,1 0,-3A3,3 0 0,1 3,0Z" style="opacity: 1; stroke-width: 0px; fill: rgb(171, 99, 250); fill-opacity: 1;"/></g><g class="text"/></g><g class="trace scatter trace00968b" style="stroke-miterlimit: 2; opacity: 1;"><g class="fills"/><g class="errorbars"/><g class="lines"><path class="js-line" d="M430.4,276.87H430.4V183.37H430.4V113.25H430.4V89.87H430.4V66.5H430.4V19.75" style="vector-effect: none; fill: none; stroke: rgb(255, 161, 90); stroke-opacity: 1; stroke-width: 2px; opacity: 1;"/></g><g class="points"><path class="point" transform="translate(430.4,276.87)" d="M3,0A3,3 0 1,1 0,-3A3,3 0 0,1 3,0Z" style="opacity: 1; stroke-width: 0px; fill: rgb(255, 161, 90); fill-opacity: 1;"/><path class="point" transform="translate(430.4,183.37)" d="M3,0A3,3 0 1,1 0,-3A3,3 0 0,1 3,0Z" style="opacity: 1; stroke-width: 0px; fill: rgb(255, 161, 90); fill-opacity: 1;"/><path class="point" transform="translate(430.4,113.25)" d="M3,0A3,3 0 1,1 0,-3A3,3 0 0,1 3,0Z" style="opacity: 1; stroke-width: 0px; fill: rgb(255, 161, 90); fill-opacity: 1;"/><path class="point" transform="translate(430.4,89.87)" d="M3,0A3,3 0 1,1 0,-3A3,3 0 0,1 3,0Z" style="opacity: 1; stroke-width: 0px; fill: rgb(255, 161, 90); fill-opacity: 1;"/><path class="point" transform="translate(430.4,66.5)" d="M3,0A3,3 0 1,1 0,-3A3,3 0 0,1 3,0Z" style="opacity: 1; stroke-width: 0px; fill: rgb(255, 161, 90); fill-opacity: 1;"/><path class="point" transform="translate(430.4,19.75)" d="M3,0A3,3 0 1,1 0,-3A3,3 0 0,1 3,0Z" style="opacity: 1; stroke-width: 0px; fill: rgb(255, 161, 90); fill-opacity: 1;"/></g><g class="text"/></g><g class="trace scatter trace3bf586" style="stroke-miterlimit: 2; opacity: 1;"><g class="fills"/><g class="errorbars"/><g class="lines"><path class="js-line" d="M430.4,276.87H430.4V183.37H430.4V136.62H430.4V113.25H430.4V19.75" style="vector-effect: none; fill: none; stroke: rgb(25, 211, 243); stroke-opacity: 1; stroke-width: 2px; opacity: 1;"/></g><g class="points"><path class="point" transform="translate(430.4,276.87)" d="M3,0A3,3 0 1,1 0,-3A3,3 0 0,1 3,0Z" style="opacity: 1; stroke-width: 0px; fill: rgb(25, 211, 243); fill-opacity: 1;"/><path class="point" transform="translate(430.4,183.37)" d="M3,0A3,3 0 1,1 0,-3A3,3 0 0,1 3,0Z" style="opacity: 1; stroke-width: 0px; fill: rgb(25, 211, 243); fill-opacity: 1;"/><path class="point" transform="translate(430.4,136.62)" d="M3,0A3,3 0 1,1 0,-3A3,3 0 0,1 3,0Z" style="opacity: 1; stroke-width: 0px; fill: rgb(25, 211, 243); fill-opacity: 1;"/><path class="point" transform="translate(430.4,113.25)" d="M3,0A3,3 0 1,1 0,-3A3,3 0 0,1 3,0Z" style="opacity: 1; stroke-width: 0px; fill: rgb(25, 211, 243); fill-opacity: 1;"/><path class="point" transform="translate(430.4,19.75)" d="M3,0A3,3 0 1,1 0,-3A3,3 0 0,1 3,0Z" style="opacity: 1; stroke-width: 0px; fill: rgb(25, 211, 243); fill-opacity: 1;"/></g><g class="text"/></g><g class="trace scatter trace5ea4e3" style="stroke-miterlimit: 2; opacity: 1;"><g class="fills"/><g class="errorbars"/><g class="lines"><path class="js-line" d="M430.4,276.87H430.4V206.75H430.4V183.37H430.4V136.62H430.4V19.75" style="vector-effect: none; fill: none; stroke: rgb(255, 102, 146); stroke-opacity: 1; stroke-width: 2px; opacity: 1;"/></g><g class="points"><path class="point" transform="translate(430.4,276.87)" d="M3,0A3,3 0 1,1 0,-3A3,3 0 0,1 3,0Z" style="opacity: 1; stroke-width: 0px; fill: rgb(255, 102, 146); fill-opacity: 1;"/><path class="point" transform="translate(430.4,206.75)" d="M3,0A3,3 0 1,1 0,-3A3,3 0 0,1 3,0Z" style="opacity: 1; stroke-width: 0px; fill: rgb(255, 102, 146); fill-opacity: 1;"/><path class="point" transform="translate(430.4,183.37)" d="M3,0A3,3 0 1,1 0,-3A3,3 0 0,1 3,0Z" style="opacity: 1; stroke-width: 0px; fill: rgb(255, 102, 146); fill-opacity: 1;"/><path class="point" transform="translate(430.4,136.62)" d="M3,0A3,3 0 1,1 0,-3A3,3 0 0,1 3,0Z" style="opacity: 1; stroke-width: 0px; fill: rgb(255, 102, 146); fill-opacity: 1;"/><path class="point" transform="translate(430.4,19.75)" d="M3,0A3,3 0 1,1 0,-3A3,3 0 0,1 3,0Z" style="opacity: 1; stroke-width: 0px; fill: rgb(255, 102, 146); fill-opacity: 1;"/></g><g class="text"/></g><g class="trace scatter tracebd4b53" style="stroke-miterlimit: 2; opacity: 1;"><g class="fills"/><g class="errorbars"/><g class="lines"><path class="js-line" d="M430.4,276.87H430.4V206.75H430.4V113.25H430.4V66.5H430.4V19.75" style="vector-effect: none; fill: none; stroke: rgb(182, 232, 128); stroke-opacity: 1; stroke-width: 2px; opacity: 1;"/></g><g class="points"><path class="point" transform="translate(430.4,276.87)" d="M3,0A3,3 0 1,1 0,-3A3,3 0 0,1 3,0Z" style="opacity: 1; stroke-width: 0px; fill: rgb(182, 232, 128); fill-opacity: 1;"/><path class="point" transform="translate(430.4,206.75)" d="M3,0A3,3 0 1,1 0,-3A3,3 0 0,1 3,0Z" style="opacity: 1; stroke-width: 0px; fill: rgb(182, 232, 128); fill-opacity: 1;"/><path class="point" transform="translate(430.4,113.25)" d="M3,0A3,3 0 1,1 0,-3A3,3 0 0,1 3,0Z" style="opacity: 1; stroke-width: 0px; fill: rgb(182, 232, 128); fill-opacity: 1;"/><path class="point" transform="translate(430.4,66.5)" d="M3,0A3,3 0 1,1 0,-3A3,3 0 0,1 3,0Z" style="opacity: 1; stroke-width: 0px; fill: rgb(182, 232, 128); fill-opacity: 1;"/><path class="point" transform="translate(430.4,19.75)" d="M3,0A3,3 0 1,1 0,-3A3,3 0 0,1 3,0Z" style="opacity: 1; stroke-width: 0px; fill: rgb(182, 232, 128); fill-opacity: 1;"/></g><g class="text"/></g><g class="trace scatter tracee335d6" style="stroke-miterlimit: 2; opacity: 1;"><g class="fills"/><g class="errorbars"/><g class="lines"><path class="js-line" d="M430.4,276.87H430.4V183.37H430.4V113.25H430.4V66.5H430.4V19.75" style="vector-effect: none; fill: none; stroke: rgb(255, 151, 255); stroke-opacity: 1; stroke-width: 2px; opacity: 1;"/></g><g class="points"><path class="point" transform="translate(430.4,276.87)" d="M3,0A3,3 0 1,1 0,-3A3,3 0 0,1 3,0Z" style="opacity: 1; stroke-width: 0px; fill: rgb(255, 151, 255); fill-opacity: 1;"/><path class="point" transform="translate(430.4,183.37)" d="M3,0A3,3 0 1,1 0,-3A3,3 0 0,1 3,0Z" style="opacity: 1; stroke-width: 0px; fill: rgb(255, 151, 255); fill-opacity: 1;"/><path class="point" transform="translate(430.4,113.25)" d="M3,0A3,3 0 1,1 0,-3A3,3 0 0,1 3,0Z" style="opacity: 1; stroke-width: 0px; fill: rgb(255, 151, 255); fill-opacity: 1;"/><path class="point" transform="translate(430.4,66.5)" d="M3,0A3,3 0 1,1 0,-3A3,3 0 0,1 3,0Z" style="opacity: 1; stroke-width: 0px; fill: rgb(255, 151, 255); fill-opacity: 1;"/><path class="point" transform="translate(430.4,19.75)" d="M3,0A3,3 0 1,1 0,-3A3,3 0 0,1 3,0Z" style="opacity: 1; stroke-width: 0px; fill: rgb(255, 151, 255); fill-opacity: 1;"/></g><g class="text"/></g><g class="trace scatter trace057128" style="stroke-miterlimit: 2; opacity: 1;"><g class="fills"/><g class="errorbars"/><g class="lines"><path class="js-line" d="M26.6,300.25" style="vector-effect: none; fill: none; stroke: rgb(254, 203, 82); stroke-opacity: 1; stroke-width: 2px; opacity: 1;"/><path class="js-line" d="M430.4,89.87" style="vector-effect: none; fill: none; stroke: rgb(254, 203, 82); stroke-opacity: 1; stroke-width: 2px; opacity: 1;"/><path class="js-line" d="M430.4,89.87" style="vector-effect: none; fill: none; stroke: rgb(254, 203, 82); stroke-opacity: 1; stroke-width: 2px; opacity: 1;"/></g><g class="points"><path class="point" transform="translate(26.6,300.25)" d="M3,0A3,3 0 1,1 0,-3A3,3 0 0,1 3,0Z" style="opacity: 1; stroke-width: 0px; fill: rgb(254, 203, 82); fill-opacity: 1;"/><path class="point" transform="translate(430.4,89.87)" d="M3,0A3,3 0 1,1 0,-3A3,3 0 0,1 3,0Z" style="opacity: 1; stroke-width: 0px; fill: rgb(254, 203, 82); fill-opacity: 1;"/><path class="point" transform="translate(430.4,89.87)" d="M3,0A3,3 0 1,1 0,-3A3,3 0 0,1 3,0Z" style="opacity: 1; stroke-width: 0px; fill: rgb(254, 203, 82); fill-opacity: 1;"/></g><g class="text"/></g><g class="trace scatter trace5f4375" style="stroke-miterlimit: 2; opacity: 1;"><g class="fills"/><g class="errorbars"/><g class="lines"><path class="js-line" d="M430.4,276.87H430.4V206.75H430.4V183.37H430.4V113.25H430.4V19.75" style="vector-effect: none; fill: none; stroke: rgb(99, 110, 250); stroke-opacity: 1; stroke-width: 2px; opacity: 1;"/></g><g class="points"><path class="point" transform="translate(430.4,276.87)" d="M3,0A3,3 0 1,1 0,-3A3,3 0 0,1 3,0Z" style="opacity: 1; stroke-width: 0px; fill: rgb(99, 110, 250); fill-opacity: 1;"/><path class="point" transform="translate(430.4,206.75)" d="M3,0A3,3 0 1,1 0,-3A3,3 0 0,1 3,0Z" style="opacity: 1; stroke-width: 0px; fill: rgb(99, 110, 250); fill-opacity: 1;"/><path class="point" transform="translate(430.4,183.37)" d="M3,0A3,3 0 1,1 0,-3A3,3 0 0,1 3,0Z" style="opacity: 1; stroke-width: 0px; fill: rgb(99, 110, 250); fill-opacity: 1;"/><path class="point" transform="translate(430.4,113.25)" d="M3,0A3,3 0 1,1 0,-3A3,3 0 0,1 3,0Z" style="opacity: 1; stroke-width: 0px; fill: rgb(99, 110, 250); fill-opacity: 1;"/><path class="point" transform="translate(430.4,19.75)" d="M3,0A3,3 0 1,1 0,-3A3,3 0 0,1 3,0Z" style="opacity: 1; stroke-width: 0px; fill: rgb(99, 110, 250); fill-opacity: 1;"/></g><g class="text"/></g><g class="trace scatter tracec7bb6e" style="stroke-miterlimit: 2; opacity: 1;"><g class="fills"/><g class="errorbars"/><g class="lines"><path class="js-line" d="M430.4,276.87H430.4V206.75H430.4V136.62H430.4V113.25H430.4V19.75" style="vector-effect: none; fill: none; stroke: rgb(239, 85, 59); stroke-opacity: 1; stroke-width: 2px; opacity: 1;"/></g><g class="points"><path class="point" transform="translate(430.4,276.87)" d="M3,0A3,3 0 1,1 0,-3A3,3 0 0,1 3,0Z" style="opacity: 1; stroke-width: 0px; fill: rgb(239, 85, 59); fill-opacity: 1;"/><path class="point" transform="translate(430.4,206.75)" d="M3,0A3,3 0 1,1 0,-3A3,3 0 0,1 3,0Z" style="opacity: 1; stroke-width: 0px; fill: rgb(239, 85, 59); fill-opacity: 1;"/><path class="point" transform="translate(430.4,136.62)" d="M3,0A3,3 0 1,1 0,-3A3,3 0 0,1 3,0Z" style="opacity: 1; stroke-width: 0px; fill: rgb(239, 85, 59); fill-opacity: 1;"/><path class="point" transform="translate(430.4,113.25)" d="M3,0A3,3 0 1,1 0,-3A3,3 0 0,1 3,0Z" style="opacity: 1; stroke-width: 0px; fill: rgb(239, 85, 59); fill-opacity: 1;"/><path class="point" transform="translate(430.4,19.75)" d="M3,0A3,3 0 1,1 0,-3A3,3 0 0,1 3,0Z" style="opacity: 1; stroke-width: 0px; fill: rgb(239, 85, 59); fill-opacity: 1;"/></g><g class="text"/></g><g class="trace scatter trace484919" style="stroke-miterlimit: 2; opacity: 1;"><g class="fills"/><g class="errorbars"/><g class="lines"><path class="js-line" d="M430.4,276.87H430.4V160H430.4V136.62H430.4V113.25H430.4V66.5H430.4V43.13H430.4V19.75" style="vector-effect: none; fill: none; stroke: rgb(0, 204, 150); stroke-opacity: 1; stroke-width: 2px; opacity: 1;"/></g><g class="points"><path class="point" transform="translate(430.4,276.87)" d="M3,0A3,3 0 1,1 0,-3A3,3 0 0,1 3,0Z" style="opacity: 1; stroke-width: 0px; fill: rgb(0, 204, 150); fill-opacity: 1;"/><path class="point" transform="translate(430.4,160)" d="M3,0A3,3 0 1,1 0,-3A3,3 0 0,1 3,0Z" style="opacity: 1; stroke-width: 0px; fill: rgb(0, 204, 150); fill-opacity: 1;"/><path class="point" transform="translate(430.4,136.62)" d="M3,0A3,3 0 1,1 0,-3A3,3 0 0,1 3,0Z" style="opacity: 1; stroke-width: 0px; fill: rgb(0, 204, 150); fill-opacity: 1;"/><path class="point" transform="translate(430.4,113.25)" d="M3,0A3,3 0 1,1 0,-3A3,3 0 0,1 3,0Z" style="opacity: 1; stroke-width: 0px; fill: rgb(0, 204, 150); fill-opacity: 1;"/><path class="point" transform="translate(430.4,66.5)" d="M3,0A3,3 0 1,1 0,-3A3,3 0 0,1 3,0Z" style="opacity: 1; stroke-width: 0px; fill: rgb(0, 204, 150); fill-opacity: 1;"/><path class="point" transform="translate(430.4,43.13)" d="M3,0A3,3 0 1,1 0,-3A3,3 0 0,1 3,0Z" style="opacity: 1; stroke-width: 0px; fill: rgb(0, 204, 150); fill-opacity: 1;"/><path class="point" transform="translate(430.4,19.75)" d="M3,0A3,3 0 1,1 0,-3A3,3 0 0,1 3,0Z" style="opacity: 1; stroke-width: 0px; fill: rgb(0, 204, 150); fill-opacity: 1;"/></g><g class="text"/></g><g class="trace scatter tracee6647c" style="stroke-miterlimit: 2; opacity: 1;"><g class="fills"/><g class="errorbars"/><g class="lines"><path class="js-line" d="M430.4,276.87H430.4V253.5H430.4V183.37H430.4V136.62H430.4V66.5H430.4V19.75" style="vector-effect: none; fill: none; stroke: rgb(171, 99, 250); stroke-opacity: 1; stroke-width: 2px; opacity: 1;"/></g><g class="points"><path class="point" transform="translate(430.4,276.87)" d="M3,0A3,3 0 1,1 0,-3A3,3 0 0,1 3,0Z" style="opacity: 1; stroke-width: 0px; fill: rgb(171, 99, 250); fill-opacity: 1;"/><path class="point" transform="translate(430.4,253.5)" d="M3,0A3,3 0 1,1 0,-3A3,3 0 0,1 3,0Z" style="opacity: 1; stroke-width: 0px; fill: rgb(171, 99, 250); fill-opacity: 1;"/><path class="point" transform="translate(430.4,183.37)" d="M3,0A3,3 0 1,1 0,-3A3,3 0 0,1 3,0Z" style="opacity: 1; stroke-width: 0px; fill: rgb(171, 99, 250); fill-opacity: 1;"/><path class="point" transform="translate(430.4,136.62)" d="M3,0A3,3 0 1,1 0,-3A3,3 0 0,1 3,0Z" style="opacity: 1; stroke-width: 0px; fill: rgb(171, 99, 250); fill-opacity: 1;"/><path class="point" transform="translate(430.4,66.5)" d="M3,0A3,3 0 1,1 0,-3A3,3 0 0,1 3,0Z" style="opacity: 1; stroke-width: 0px; fill: rgb(171, 99, 250); fill-opacity: 1;"/><path class="point" transform="translate(430.4,19.75)" d="M3,0A3,3 0 1,1 0,-3A3,3 0 0,1 3,0Z" style="opacity: 1; stroke-width: 0px; fill: rgb(171, 99, 250); fill-opacity: 1;"/></g><g class="text"/></g><g class="trace scatter trace479df7" style="stroke-miterlimit: 2; opacity: 1;"><g class="fills"/><g class="errorbars"/><g class="lines"><path class="js-line" d="M430.4,253.5" style="vector-effect: none; fill: none; stroke: rgb(255, 161, 90); stroke-opacity: 1; stroke-width: 2px; opacity: 1;"/><path class="js-line" d="M430.4,160" style="vector-effect: none; fill: none; stroke: rgb(255, 161, 90); stroke-opacity: 1; stroke-width: 2px; opacity: 1;"/></g><g class="points"><path class="point" transform="translate(430.4,253.5)" d="M3,0A3,3 0 1,1 0,-3A3,3 0 0,1 3,0Z" style="opacity: 1; stroke-width: 0px; fill: rgb(255, 161, 90); fill-opacity: 1;"/><path class="point" transform="translate(430.4,160)" d="M3,0A3,3 0 1,1 0,-3A3,3 0 0,1 3,0Z" style="opacity: 1; stroke-width: 0px; fill: rgb(255, 161, 90); fill-opacity: 1;"/></g><g class="text"/></g><g class="trace scatter tracee938e8" style="stroke-miterlimit: 2; opacity: 1;"><g class="fills"/><g class="errorbars"/><g class="lines"><path class="js-line" d="M430.4,230.12" style="vector-effect: none; fill: none; stroke: rgb(25, 211, 243); stroke-opacity: 1; stroke-width: 2px; opacity: 1;"/><path class="js-line" d="M430.4,230.12" style="vector-effect: none; fill: none; stroke: rgb(25, 211, 243); stroke-opacity: 1; stroke-width: 2px; opacity: 1;"/><path class="js-line" d="M430.4,230.12" style="vector-effect: none; fill: none; stroke: rgb(25, 211, 243); stroke-opacity: 1; stroke-width: 2px; opacity: 1;"/><path class="js-line" d="M430.4,43.13" style="vector-effect: none; fill: none; stroke: rgb(25, 211, 243); stroke-opacity: 1; stroke-width: 2px; opacity: 1;"/></g><g class="points"><path class="point" transform="translate(430.4,230.12)" d="M3,0A3,3 0 1,1 0,-3A3,3 0 0,1 3,0Z" style="opacity: 1; stroke-width: 0px; fill: rgb(25, 211, 243); fill-opacity: 1;"/><path class="point" transform="translate(430.4,230.12)" d="M3,0A3,3 0 1,1 0,-3A3,3 0 0,1 3,0Z" style="opacity: 1; stroke-width: 0px; fill: rgb(25, 211, 243); fill-opacity: 1;"/><path class="point" transform="translate(430.4,230.12)" d="M3,0A3,3 0 1,1 0,-3A3,3 0 0,1 3,0Z" style="opacity: 1; stroke-width: 0px; fill: rgb(25, 211, 243); fill-opacity: 1;"/><path class="point" transform="translate(430.4,43.13)" d="M3,0A3,3 0 1,1 0,-3A3,3 0 0,1 3,0Z" style="opacity: 1; stroke-width: 0px; fill: rgb(25, 211, 243); fill-opacity: 1;"/></g><g class="text"/></g><g class="trace scatter tracedfd849" style="stroke-miterlimit: 2; opacity: 1;"><g class="fills"/><g class="errorbars"/><g class="lines"><path class="js-line" d="M430.4,276.87" style="vector-effect: none; fill: none; stroke: rgb(255, 102, 146); stroke-opacity: 1; stroke-width: 2px; opacity: 1;"/></g><g class="points"><path class="point" transform="translate(430.4,276.87)" d="M3,0A3,3 0 1,1 0,-3A3,3 0 0,1 3,0Z" style="opacity: 1; stroke-width: 0px; fill: rgb(255, 102, 146); fill-opacity: 1;"/></g><g class="text"/></g><g class="trace scatter tracee99bb5" style="stroke-miterlimit: 2; opacity: 1;"><g class="fills"/><g class="errorbars"/><g class="lines"><path class="js-line" d="M430.4,276.87" style="vector-effect: none; fill: none; stroke: rgb(182, 232, 128); stroke-opacity: 1; stroke-width: 2px; opacity: 1;"/></g><g class="points"><path class="point" transform="translate(430.4,276.87)" d="M3,0A3,3 0 1,1 0,-3A3,3 0 0,1 3,0Z" style="opacity: 1; stroke-width: 0px; fill: rgb(182, 232, 128); fill-opacity: 1;"/></g><g class="text"/></g><g class="trace scatter trace9ba0e1" style="stroke-miterlimit: 2; opacity: 1;"><g class="fills"/><g class="errorbars"/><g class="lines"><path class="js-line" d="M430.4,276.87" style="vector-effect: none; fill: none; stroke: rgb(255, 151, 255); stroke-opacity: 1; stroke-width: 2px; opacity: 1;"/></g><g class="points"><path class="point" transform="translate(430.4,276.87)" d="M3,0A3,3 0 1,1 0,-3A3,3 0 0,1 3,0Z" style="opacity: 1; stroke-width: 0px; fill: rgb(255, 151, 255); fill-opacity: 1;"/></g><g class="text"/></g><g class="trace scatter tracecf0ff7" style="stroke-miterlimit: 2; opacity: 1;"><g class="fills"/><g class="errorbars"/><g class="lines"><path class="js-line" d="M430.4,276.87" style="vector-effect: none; fill: none; stroke: rgb(254, 203, 82); stroke-opacity: 1; stroke-width: 2px; opacity: 1;"/></g><g class="points"><path class="point" transform="translate(430.4,276.87)" d="M3,0A3,3 0 1,1 0,-3A3,3 0 0,1 3,0Z" style="opacity: 1; stroke-width: 0px; fill: rgb(254, 203, 82); fill-opacity: 1;"/></g><g class="text"/></g><g class="trace scatter traceb3040d" style="stroke-miterlimit: 2; opacity: 1;"><g class="fills"/><g class="errorbars"/><g class="lines"><path class="js-line" d="M430.4,276.87H430.4V19.75" style="vector-effect: none; fill: none; stroke: rgb(99, 110, 250); stroke-opacity: 1; stroke-width: 2px; opacity: 1;"/></g><g class="points"><path class="point" transform="translate(430.4,276.87)" d="M3,0A3,3 0 1,1 0,-3A3,3 0 0,1 3,0Z" style="opacity: 1; stroke-width: 0px; fill: rgb(99, 110, 250); fill-opacity: 1;"/><path class="point" transform="translate(430.4,19.75)" d="M3,0A3,3 0 1,1 0,-3A3,3 0 0,1 3,0Z" style="opacity: 1; stroke-width: 0px; fill: rgb(99, 110, 250); fill-opacity: 1;"/></g><g class="text"/></g><g class="trace scatter trace0827d2" style="stroke-miterlimit: 2; opacity: 1;"><g class="fills"/><g class="errorbars"/><g class="lines"><path class="js-line" d="M430.4,276.87H430.4V19.75" style="vector-effect: none; fill: none; stroke: rgb(239, 85, 59); stroke-opacity: 1; stroke-width: 2px; opacity: 1;"/></g><g class="points"><path class="point" transform="translate(430.4,276.87)" d="M3,0A3,3 0 1,1 0,-3A3,3 0 0,1 3,0Z" style="opacity: 1; stroke-width: 0px; fill: rgb(239, 85, 59); fill-opacity: 1;"/><path class="point" transform="translate(430.4,19.75)" d="M3,0A3,3 0 1,1 0,-3A3,3 0 0,1 3,0Z" style="opacity: 1; stroke-width: 0px; fill: rgb(239, 85, 59); fill-opacity: 1;"/></g><g class="text"/></g><g class="trace scatter tracec15d0a" style="stroke-miterlimit: 2; opacity: 1;"><g class="fills"/><g class="errorbars"/><g class="lines"><path class="js-line" d="M430.4,276.87H430.4V19.75" style="vector-effect: none; fill: none; stroke: rgb(0, 204, 150); stroke-opacity: 1; stroke-width: 2px; opacity: 1;"/></g><g class="points"><path class="point" transform="translate(430.4,276.87)" d="M3,0A3,3 0 1,1 0,-3A3,3 0 0,1 3,0Z" style="opacity: 1; stroke-width: 0px; fill: rgb(0, 204, 150); fill-opacity: 1;"/><path class="point" transform="translate(430.4,19.75)" d="M3,0A3,3 0 1,1 0,-3A3,3 0 0,1 3,0Z" style="opacity: 1; stroke-width: 0px; fill: rgb(0, 204, 150); fill-opacity: 1;"/></g><g class="text"/></g><g class="trace scatter trace0434c5" style="stroke-miterlimit: 2; opacity: 1;"><g class="fills"/><g class="errorbars"/><g class="lines"><path class="js-line" d="M430.4,276.87H430.4V19.75" style="vector-effect: none; fill: none; stroke: rgb(171, 99, 250); stroke-opacity: 1; stroke-width: 2px; opacity: 1;"/></g><g class="points"><path class="point" transform="translate(430.4,276.87)" d="M3,0A3,3 0 1,1 0,-3A3,3 0 0,1 3,0Z" style="opacity: 1; stroke-width: 0px; fill: rgb(171, 99, 250); fill-opacity: 1;"/><path class="point" transform="translate(430.4,19.75)" d="M3,0A3,3 0 1,1 0,-3A3,3 0 0,1 3,0Z" style="opacity: 1; stroke-width: 0px; fill: rgb(171, 99, 250); fill-opacity: 1;"/></g><g class="text"/></g><g class="trace scatter tracea2657a" style="stroke-miterlimit: 2; opacity: 1;"><g class="fills"/><g class="errorbars"/><g class="lines"><path class="js-line" d="M430.4,276.87" style="vector-effect: none; fill: none; stroke: rgb(255, 161, 90); stroke-opacity: 1; stroke-width: 2px; opacity: 1;"/></g><g class="points"><path class="point" transform="translate(430.4,276.87)" d="M3,0A3,3 0 1,1 0,-3A3,3 0 0,1 3,0Z" style="opacity: 1; stroke-width: 0px; fill: rgb(255, 161, 90); fill-opacity: 1;"/></g><g class="text"/></g><g class="trace scatter trace447e26" style="stroke-miterlimit: 2; opacity: 1;"><g class="fills"/><g class="errorbars"/><g class="lines"><path class="js-line" d="M430.4,276.87" style="vector-effect: none; fill: none; stroke: rgb(25, 211, 243); stroke-opacity: 1; stroke-width: 2px; opacity: 1;"/></g><g class="points"><path class="point" transform="translate(430.4,276.87)" d="M3,0A3,3 0 1,1 0,-3A3,3 0 0,1 3,0Z" style="opacity: 1; stroke-width: 0px; fill: rgb(25, 211, 243); fill-opacity: 1;"/></g><g class="text"/></g><g class="trace scatter trace669ef5" style="stroke-miterlimit: 2; opacity: 1;"><g class="fills"/><g class="errorbars"/><g class="lines"><path class="js-line" d="M430.4,276.87H430.4V206.75H430.4V206.75H430.4V183.37H430.4V183.37H430.4V136.62H430.4V136.62H430.4V113.25H430.4V113.25H430.4V66.5H430.4V66.5H430.4V19.75" style="vector-effect: none; fill: none; stroke: rgb(255, 102, 146); stroke-opacity: 1; stroke-width: 2px; opacity: 1;"/></g><g class="points"><path class="point" transform="translate(430.4,276.87)" d="M3,0A3,3 0 1,1 0,-3A3,3 0 0,1 3,0Z" style="opacity: 1; stroke-width: 0px; fill: rgb(255, 102, 146); fill-opacity: 1;"/><path class="point" transform="translate(430.4,206.75)" d="M3,0A3,3 0 1,1 0,-3A3,3 0 0,1 3,0Z" style="opacity: 1; stroke-width: 0px; fill: rgb(255, 102, 146); fill-opacity: 1;"/><path class="point" transform="translate(430.4,206.75)" d="M3,0A3,3 0 1,1 0,-3A3,3 0 0,1 3,0Z" style="opacity: 1; stroke-width: 0px; fill: rgb(255, 102, 146); fill-opacity: 1;"/><path class="point" transform="translate(430.4,183.37)" d="M3,0A3,3 0 1,1 0,-3A3,3 0 0,1 3,0Z" style="opacity: 1; stroke-width: 0px; fill: rgb(255, 102, 146); fill-opacity: 1;"/><path class="point" transform="translate(430.4,183.37)" d="M3,0A3,3 0 1,1 0,-3A3,3 0 0,1 3,0Z" style="opacity: 1; stroke-width: 0px; fill: rgb(255, 102, 146); fill-opacity: 1;"/><path class="point" transform="translate(430.4,136.62)" d="M3,0A3,3 0 1,1 0,-3A3,3 0 0,1 3,0Z" style="opacity: 1; stroke-width: 0px; fill: rgb(255, 102, 146); fill-opacity: 1;"/><path class="point" transform="translate(430.4,136.62)" d="M3,0A3,3 0 1,1 0,-3A3,3 0 0,1 3,0Z" style="opacity: 1; stroke-width: 0px; fill: rgb(255, 102, 146); fill-opacity: 1;"/><path class="point" transform="translate(430.4,113.25)" d="M3,0A3,3 0 1,1 0,-3A3,3 0 0,1 3,0Z" style="opacity: 1; stroke-width: 0px; fill: rgb(255, 102, 146); fill-opacity: 1;"/><path class="point" transform="translate(430.4,113.25)" d="M3,0A3,3 0 1,1 0,-3A3,3 0 0,1 3,0Z" style="opacity: 1; stroke-width: 0px; fill: rgb(255, 102, 146); fill-opacity: 1;"/><path class="point" transform="translate(430.4,66.5)" d="M3,0A3,3 0 1,1 0,-3A3,3 0 0,1 3,0Z" style="opacity: 1; stroke-width: 0px; fill: rgb(255, 102, 146); fill-opacity: 1;"/><path class="point" transform="translate(430.4,66.5)" d="M3,0A3,3 0 1,1 0,-3A3,3 0 0,1 3,0Z" style="opacity: 1; stroke-width: 0px; fill: rgb(255, 102, 146); fill-opacity: 1;"/><path class="point" transform="translate(430.4,19.75)" d="M3,0A3,3 0 1,1 0,-3A3,3 0 0,1 3,0Z" style="opacity: 1; stroke-width: 0px; fill: rgb(255, 102, 146); fill-opacity: 1;"/></g><g class="text"/></g></g></g></g><g class="zerolinelayer-above"/><path class="xlines-above crisp" d="M0,0" style="fill: none;"/><path class="ylines-above crisp" d="M0,0" style="fill: none;"/><g class="overlines-above"/><g class="xaxislayer-above"><g class="xtick"><text text-anchor="middle" x="0" y="433" transform="translate(106.1,0)" style="font-family: 'DejaVu Sans', 'Liberation Sans', sans-serif; font-size: 12px; fill: rgb(42, 63, 95); fill-opacity: 1; white-space: pre;">02:00</text></g><g class="xtick"><text text-anchor="middle" x="0" y="433" style="font-family: 'DejaVu Sans', 'Liberation Sans', sans-serif; font-size: 12px; fill: rgb(42, 63, 95); fill-opacity: 1; white-space: pre;" transform="translate(207.18,0)">02:15</text></g><g class="xtick"><text text-anchor="middle" x="0" y="433" style="font-family: 'DejaVu Sans', 'Liberation Sans', sans-serif; font-size: 12px; fill: rgb(42, 63, 95); fill-opacity: 1; white-space: pre;" transform="translate(308.25,0)">02:30</text></g><g class="xtick"><text text-anchor="middle" x="0" y="433" style="font-family: 'DejaVu Sans', 'Liberation Sans', sans-serif; font-size: 12px; fill: rgb(42, 63, 95); fill-opacity: 1; white-space: pre;" transform="translate(409.33,0)">02:45</text></g><g class="xtick"><text text-anchor="middle" x="0" y="433" style="font-family: 'DejaVu Sans', 'Liberation Sans', sans-serif; font-size: 12px; fill: rgb(42, 63, 95); fill-opacity: 1; white-space: pre;" transform="translate(510.4,0)">03:00</text></g></g><g class="yaxislayer-above"><g class="ytick"><text text-anchor="end" x="79" y="4.199999999999999" transform="translate(0,400.25)" style="font-family: 'DejaVu Sans', 'Liberation Sans', sans-serif; font-size: 12px; fill: rgb(42, 63, 95); fill-opacity: 1; white-space: pre;">0</text></g><g class="ytick"><text text-anchor="end" x="79" y="4.199999999999999" style="font-family: 'DejaVu Sans', 'Liberation Sans', sans-serif; font-size: 12px; fill: rgb(42, 63, 95); fill-opacity: 1; white-space: pre;" transform="translate(0,353.5)">2</text></g><g class="ytick"><text text-anchor="end" x="79" y="4.199999999999999" style="font-family: 'DejaVu Sans', 'Liberation Sans', sans-serif; font-size: 12px; fill: rgb(42, 63, 95); fill-opacity: 1; white-space: pre;" transform="translate(0,306.75)">4</text></g><g class="ytick"><text text-anchor="end" x="79" y="4.199999999999999" style="font-family: 'DejaVu Sans', 'Liberation Sans', sans-serif; font-size: 12px; fill: rgb(42, 63, 95); fill-opacity: 1; white-space: pre;" transform="translate(0,260)">6</text></g><g class="ytick"><text text-anchor="end" x="79" y="4.199999999999999" style="font-family: 'DejaVu Sans', 'Liberation Sans', sans-serif; font-size: 12px; fill: rgb(42, 63, 95); fill-opacity: 1; white-space: pre;" transform="translate(0,213.25)">8</text></g><g class="ytick"><text text-anchor="end" x="79" y="4.199999999999999" style="font-family: 'DejaVu Sans', 'Liberation Sans', sans-serif; font-size: 12px; fill: rgb(42, 63, 95); fill-opacity: 1; white-space: pre;" transform="translate(0,166.5)">10</text></g><g class="ytick"><text text-anchor="end" x="79" y="4.199999999999999" style="font-family: 'DejaVu Sans', 'Liberation Sans', sans-serif; font-size: 12px; fill: rgb(42, 63, 95); fill-opacity: 1; white-space: pre;" transform="translate(0,119.75)">12</text></g></g><g class="overaxes-above"/></g></g><g class="polarlayer"/><g class="smithlayer"/><g class="ternarylayer"/><g class="geolayer"/><g class="funnelarealayer"/><g class="pielayer"/><g class="iciclelayer"/><g class="treemaplayer"/><g class="sunburstlayer"/><g class="glimages"/><defs id="topdefs-2659cf"><g class="clips"/><clipPath id="legend2659cf"><rect width="142" height="320" x="0" y="0"/></clipPath></defs><g class="layer-above"><g class="imagelayer"/><g class="shapelayer"/></g><g class="infolayer"><g class="legend" transform="translate(546.14,100)"><rect class="bg" shape-rendering="crispEdges" width="142" height="320" x="0" y="0" style="stroke: rgb(68, 68, 68); stroke-opacity: 1; fill: rgb(255, 255, 255); fill-opacity: 1; stroke-width: 0px;"/><g class="scrollbox" transform="" clip-path="url(#legend2659cf)"><g class="groups"><g class="traces" transform="translate(0,14.5)" style="opacity: 1;"><text class="legendtext" text-anchor="start" x="40" y="3.9" style="font-family: 'DejaVu Sans', 'Liberation Sans', sans-serif; font-size: 10px; fill: rgb(42, 63, 95); fill-opacity: 1; white-space: pre;">zachary-wilde-1</text><g class="layers" style="opacity: 1;"><g class="legendfill"/><g class="legendlines"><path class="js-line" d="M5,0h30" style="fill: none; stroke: rgb(99, 110, 250); stroke-opacity: 1; stroke-width: 2px;"/></g><g class="legendsymbols"><g class="legendpoints"><path class="scatterpts" transform="translate(20,0)" d="M3,0A3,3 0 1,1 0,-3A3,3 0 0,1 3,0Z" style="opacity: 1; stroke-width: 0px; fill: rgb(99, 110, 250); fill-opacity: 1;"/></g></g></g></g><g class="traces" transform="translate(0,33.5)" style="opacity: 1;"><text class="legendtext" text-anchor="start" x="40" y="3.9" style="font-family: 'DejaVu Sans', 'Liberation Sans', sans-serif; font-size: 10px; fill: rgb(42, 63, 95); fill-opacity: 1; white-space: pre;">zach_ludgate</text><g class="layers" style="opacity: 1;"><g class="legendfill"/><g class="legendlines"><path class="js-line" d="M5,0h30" style="fill: none; stroke: rgb(239, 85, 59); stroke-opacity: 1; stroke-width: 2px;"/></g><g class="legendsymbols"><g class="legendpoints"><path class="scatterpts" transform="translate(20,0)" d="M3,0A3,3 0 1,1 0,-3A3,3 0 0,1 3,0Z" style="opacity: 1; stroke-width: 0px; fill: rgb(239, 85, 59); fill-opacity: 1;"/></g></g></g></g><g class="traces" transform="translate(0,52.5)" style="opacity: 1;"><text class="legendtext" text-anchor="start" x="40" y="3.9" style="font-family: 'DejaVu Sans', 'Liberation Sans', sans-serif; font-size: 10px; fill: rgb(42, 63, 95); fill-opacity: 1; white-space: pre;">zach-perkel</text><g class="layers" style="opacity: 1;"><g class="legendfill"/><g class="legendlines"><path class="js-line" d="M5,0h30" style="fill: none; stroke: rgb(0, 204, 150); stroke-opacity: 1; stroke-width: 2px;"/></g><g class="legendsymbols"><g class="legendpoints"><path class="scatterpts" transform="translate(20,0)" d="M3,0A3,3 0 1,1 0,-3A3,3 0 0,1 3,0Z" style="opacity: 1; stroke-width: 0px; fill: rgb(0, 204, 150); fill-opacity: 1;"/></g></g></g></g><g class="traces" transform="translate(0,71.5)" style="opacity: 1;"><text class="legendtext" text-anchor="start" x="40" y="3.9" style="font-family: 'DejaVu Sans', 'Liberation Sans', sans-serif; font-size: 10px; fill: rgb(42, 63, 95); fill-opacity: 1; white-space: pre;">zach-kiekhaefer</text><g class="layers" style="opacity: 1;"><g class="legendfill"/><g class="legendlines"><path class="js-line" d="M5,0h30" style="fill: none; stroke: rgb(171, 99, 250); stroke-opacity: 1; stroke-width: 2px;"/></g><g class="legendsymbols"><g class="legendpoints"><path class="scatterpts" transform="translate(20,0)" d="M3,0A3,3 0 1,1 0,-3A3,3 0 0,1 3,0Z" style="opacity: 1; stroke-width: 0px; fill: rgb(171, 99, 250); fill-opacity: 1;"/></g></g></g></g><g class="traces" transform="translate(0,90.5)" style="opacity: 1;"><text class="legendtext" text-anchor="start" x="40" y="3.9" style="font-family: 'DejaVu Sans', 'Liberation Sans', sans-serif; font-size: 10px; fill: rgb(42, 63, 95); fill-opacity: 1; white-space: pre;">zach-french-1</text><g class="layers" style="opacity: 1;"><g class="legendfill"/><g class="legendlines"><path class="js-line" d="M5,0h30" style="fill: none; stroke: rgb(255, 161, 90); stroke-opacity: 1; stroke-width: 2px;"/></g><g class="legendsymbols"><g class="legendpoints"><path class="scatterpts" transform="translate(20,0)" d="M3,0A3,3 0 1,1 0,-3A3,3 0 0,1 3,0Z" style="opacity: 1; stroke-width: 0px; fill: rgb(255, 161, 90); fill-opacity: 1;"/></g></g></g></g><g class="traces" transform="translate(0,109.5)" style="opacity: 1;"><text class="legendtext" text-anchor="start" x="40" y="3.9" style="font-family: 'DejaVu Sans', 'Liberation Sans', sans-serif; font-size: 10px; fill: rgb(42, 63, 95); fill-opacity: 1; white-space: pre;">zach-buchalter</text><g class="layers" style="opacity: 1;"><g class="legendfill"/><g class="legendlines"><path class="js-line" d="M5,0h30" style="fill: none; stroke: rgb(25, 211, 243); stroke-opacity: 1; stroke-width: 2px;"/></g><g class="legendsymbols"><g class="legendpoints"><path class="scatterpts" transform="translate(20,0)" d="M3,0A3,3 0 1,1 0,-3A3,3 0 0,1 3,0Z" style="opacity: 1; stroke-width: 0px; fill: rgb(25, 211, 243); fill-opacity: 1;"/></g></g></g></g><g class="traces" transform="translate(0,128.5)" style="opacity: 1;"><text class="legendtext" text-anchor="start" x="40" y="3.9" style="font-family: 'DejaVu Sans', 'Liberation Sans', sans-serif; font-size: 10px; fill: rgb(42, 63, 95); fill-opacity: 1; white-space: pre;">zach-aaron-3</text><g class="layers" style="opacity: 1;"><g class="legendfill"/><g class="legendlines"><path class="js-line" d="M5,0h30" style="fill: none; stroke: rgb(255, 102, 146); stroke-opacity: 1; stroke-width: 2px;"/></g><g class="legendsymbols"><g class="legendpoints"><path class="scatterpts" transform="translate(20,0)" d="M3,0A3,3 0 1,1 0,-3A3,3 0 0,1 3,0Z" style="opacity: 1; stroke-width: 0px; fill: rgb(255, 102, 146); fill-opacity: 1;"/></g></g></g></g><g class="traces" transform="translate(0,147.5)" style="opacity: 1;"><text class="legendtext" text-anchor="start" x="40" y="3.9" style="font-family: 'DejaVu Sans', 'Liberation Sans', sans-serif; font-size: 10px; fill: rgb(42, 63, 95); fill-opacity: 1; white-space: pre;">zac-hall-10</text><g class="layers" style="opacity: 1;"><g class="legendfill"/><g class="legendlines"><path class="js-line" d="M5,0h30" style="fill: none; stroke: rgb(182, 232, 128); stroke-opacity: 1; stroke-width: 2px;"/></g><g class="legendsymbols"><g class="legendpoints"><path class="scatterpts" transform="translate(20,0)" d="M3,0A3,3 0 1,1 0,-3A3,3 0 0,1 3,0Z" style="opacity: 1; stroke-width: 0px; fill: rgb(182, 232, 128); fill-opacity: 1;"/></g></g></g></g><g class="traces" transform="translate(0,166.5)" style="opacity: 1;"><text class="legendtext" text-anchor="start" x="40" y="3.9" style="font-family: 'DejaVu Sans', 'Liberation Sans', sans-serif; font-size: 10px; fill: rgb(42, 63, 95); fill-opacity: 1; white-space: pre;">zac-chouinard</text><g class="layers" style="opacity: 1;"><g class="legendfill"/><g class="legendlines"><path class="js-line" d="M5,0h30" style="fill: none; stroke: rgb(255, 151, 255); stroke-opacity: 1; stroke-width: 2px;"/></g><g class="legendsymbols"><g class="legendpoints"><path class="scatterpts" transform="translate(20,0)" d="M3,0A3,3 0 1,1 0,-3A3,3 0 0,1 3,0Z" style="opacity: 1; stroke-width: 0px; fill: rgb(255, 151, 255); fill-opacity: 1;"/></g></g></g></g><g class="traces" transform="translate(0,185.5)" style="opacity: 1;"><text class="legendtext" text-anchor="start" x="40" y="3.9" style="font-family: 'DejaVu Sans', 'Liberation Sans', sans-serif; font-size: 10px; fill: rgb(42, 63, 95); fill-opacity: 1; white-space: pre;">z00bski</text><g class="layers" style="opacity: 1;"><g class="legendfill"/><g class="legendlines"><path class="js-line" d="M5,0h30" style="fill: none; stroke: rgb(254, 203, 82); stroke-opacity: 1; stroke-width: 2px;"/></g><g class="legendsymbols"><g class="legendpoints"><path class="scatterpts" transform="translate(20,0)" d="M3,0A3,3 0 1,1 0,-3A3,3 0 0,1 3,0Z" style="opacity: 1; stroke-width: 0px; fill: rgb(254, 203, 82); fill-opacity: 1;"/></g></g></g></g><g class="traces" transform="translate(0,204.5)" style="opacity: 1;"><text class="legendtext" text-anchor="start" x="40" y="3.9" style="font-family: 'DejaVu Sans', 'Liberation Sans', sans-serif; font-size: 10px; fill: rgb(42, 63, 95); fill-opacity: 1; white-space: pre;">yxngmomjeans</text><g class="layers" style="opacity: 1;"><g class="legendfill"/><g class="legendlines"><path class="js-line" d="M5,0h30" style="fill: none; stroke: rgb(99, 110, 250); stroke-opacity: 1; stroke-width: 2px;"/></g><g class="legendsymbols"><g class="legendpoints"><path class="scatterpts" transform="translate(20,0)" d="M3,0A3,3 0 1,1 0,-3A3,3 0 0,1 3,0Z" style="opacity: 1; stroke-width: 0px; fill: rgb(99, 110, 250); fill-opacity: 1;"/></g></g></g></g><g class="traces" transform="translate(0,223.5)" style="opacity: 1;"><text class="legendtext" text-anchor="start" x="40" y="3.9" style="font-family: 'DejaVu Sans', 'Liberation Sans', sans-serif; font-size: 10px; fill: rgb(42, 63, 95); fill-opacity: 1; white-space: pre;">yvshay</text><g class="layers" style="opacity: 1;"><g class="legendfill"/><g class="legendlines"><path class="js-line" d="M5,0h30" style="fill: none; stroke: rgb(239, 85, 59); stroke-opacity: 1; stroke-width: 2px;"/></g><g class="legendsymbols"><g class="legendpoints"><path class="scatterpts" transform="translate(20,0)" d="M3,0A3,3 0 1,1 0,-3A3,3 0 0,1 3,0Z" style="opacity: 1; stroke-width: 0px; fill: rgb(239, 85, 59); fill-opacity: 1;"/></g></g></g></g><g class="traces" transform="translate(0,242.5)" style="opacity: 1;"><text class="legendtext" text-anchor="start" x="40" y="3.9" style="font-family: 'DejaVu Sans', 'Liberation Sans', sans-serif; font-size: 10px; fill: rgb(42, 63, 95); fill-opacity: 1; white-space: pre;">yvngjuulpod</text><g class="layers" style="opacity: 1;"><g class="legendfill"/><g class="legendlines"><path class="js-line" d="M5,0h30" style="fill: none; stroke: rgb(0, 204, 150); stroke-opacity: 1; stroke-width: 2px;"/></g><g class="legendsymbols"><g class="legendpoints"><path class="scatterpts" transform="translate(20,0)" d="M3,0A3,3 0 1,1 0,-3A3,3 0 0,1 3,0Z" style="opacity: 1; stroke-width: 0px; fill: rgb(0, 204, 150); fill-opacity: 1;"/></g></g></g></g><g class="traces" transform="translate(0,261.5)" style="opacity: 1;"><text class="legendtext" text-anchor="start" x="40" y="3.9" style="font-family: 'DejaVu Sans', 'Liberation Sans', sans-serif; font-size: 10px; fill: rgb(42, 63, 95); fill-opacity: 1; white-space: pre;">yvette5290</text><g class="layers" style="opacity: 1;"><g class="legendfill"/><g class="legendlines"><path class="js-line" d="M5,0h30" style="fill: none; stroke: rgb(171, 99, 250); stroke-opacity: 1; stroke-width: 2px;"/></g><g class="legendsymbols"><g class="legendpoints"><path class="scatterpts" transform="translate(20,0)" d="M3,0A3,3 0 1,1 0,-3A3,3 0 0,1 3,0Z" style="opacity: 1; stroke-width: 0px; fill: rgb(171, 99, 250); fill-opacity: 1;"/></g></g></g></g><g class="traces" transform="translate(0,280.5)" style="opacity: 1;"><text class="legendtext" text-anchor="start" x="40" y="3.9" style="font-family: 'DejaVu Sans', 'Liberation Sans', sans-serif; font-size: 10px; fill: rgb(42, 63, 95); fill-opacity: 1; white-space: pre;">yvessaint69</text><g class="layers" style="opacity: 1;"><g class="legendfill"/><g class="legendlines"><path class="js-line" d="M5,0h30" style="fill: none; stroke: rgb(255, 161, 90); stroke-opacity: 1; stroke-width: 2px;"/></g><g class="legendsymbols"><g class="legendpoints"><path class="scatterpts" transform="translate(20,0)" d="M3,0A3,3 0 1,1 0,-3A3,3 0 0,1 3,0Z" style="opacity: 1; stroke-width: 0px; fill: rgb(255, 161, 90); fill-opacity: 1;"/></g></g></g></g><g class="traces" transform="translate(0,299.5)" style="opacity: 1;"><text class="legendtext" text-anchor="start" x="40" y="3.9" style="font-family: 'DejaVu Sans', 'Liberation Sans', sans-serif; font-size: 10px; fill: rgb(42, 63, 95); fill-opacity: 1; white-space: pre;">yvesarmand</text><g class="layers" style="opacity: 1;"><g class="legendfill"/><g class="legendlines"><path class="js-line" d="M5,0h30" style="fill: none; stroke: rgb(25, 211, 243); stroke-opacity: 1; stroke-width: 2px;"/></g><g class="legendsymbols"><g class="legendpoints"><path class="scatterpts" transform="translate(20,0)" d="M3,0A3,3 0 1,1 0,-3A3,3 0 0,1 3,0Z" style="opacity: 1; stroke-width: 0px; fill: rgb(25, 211, 243); fill-opacity: 1;"/></g></g></g></g><g class="traces" transform="translate(0,318.5)" style="opacity: 1;"><text class="legendtext" text-anchor="start" x="40" y="3.9" style="font-family: 'DejaVu Sans', 'Liberation Sans', sans-serif; font-size: 10px; fill: rgb(42, 63, 95); fill-opacity: 1; white-space: pre;">yungvirus</text><g class="layers" style="opacity: 1;"><g class="legendfill"/><g class="legendlines"><path class="js-line" d="M5,0h30" style="fill: none; stroke: rgb(255, 102, 146); stroke-opacity: 1; stroke-width: 2px;"/></g><g class="legendsymbols"><g class="legendpoints"><path class="scatterpts" transform="translate(20,0)" d="M3,0A3,3 0 1,1 0,-3A3,3 0 0,1 3,0Z" style="opacity: 1; stroke-width: 0px; fill: rgb(255, 102, 146); fill-opacity: 1;"/></g></g></g></g></g></g></g><g class="g-gtitle"><text class="gtitle" x="35" y="50" text-anchor="start" dy="0em" style="opacity: 1; font-family: 'DejaVu Sans', 'Liberation Sans', sans-serif; font-size: 17px; fill: rgb(42, 63, 95); fill-opacity: 1; white-space: pre;">Player Scores Over Time (Ostracize)</text></g><g class="g-xtitle"><text class="xtitle" x="308.5" y="460.3" text-anchor="middle" style="opacity: 1; font-family: 'DejaVu Sans', 'Liberation Sans', sans-serif; font-size: 14px; fill: rgb(42, 63, 95); fill-opacity: 1; white-space: pre;">Time (HH:MM)</text></g><g class="g-ytitle"><text class="ytitle" transform="rotate(-90,44.31875,260)" x="44.31875" y="260" text-anchor="middle" style="opacity: 1; font-family: 'DejaVu Sans', 'Liberation Sans', sans-serif; font-size: 14px; fill: rgb(42, 63, 95); fill-opacity: 1; white-space: pre;">Score</text></g></g></svg>
</body>
</html>
